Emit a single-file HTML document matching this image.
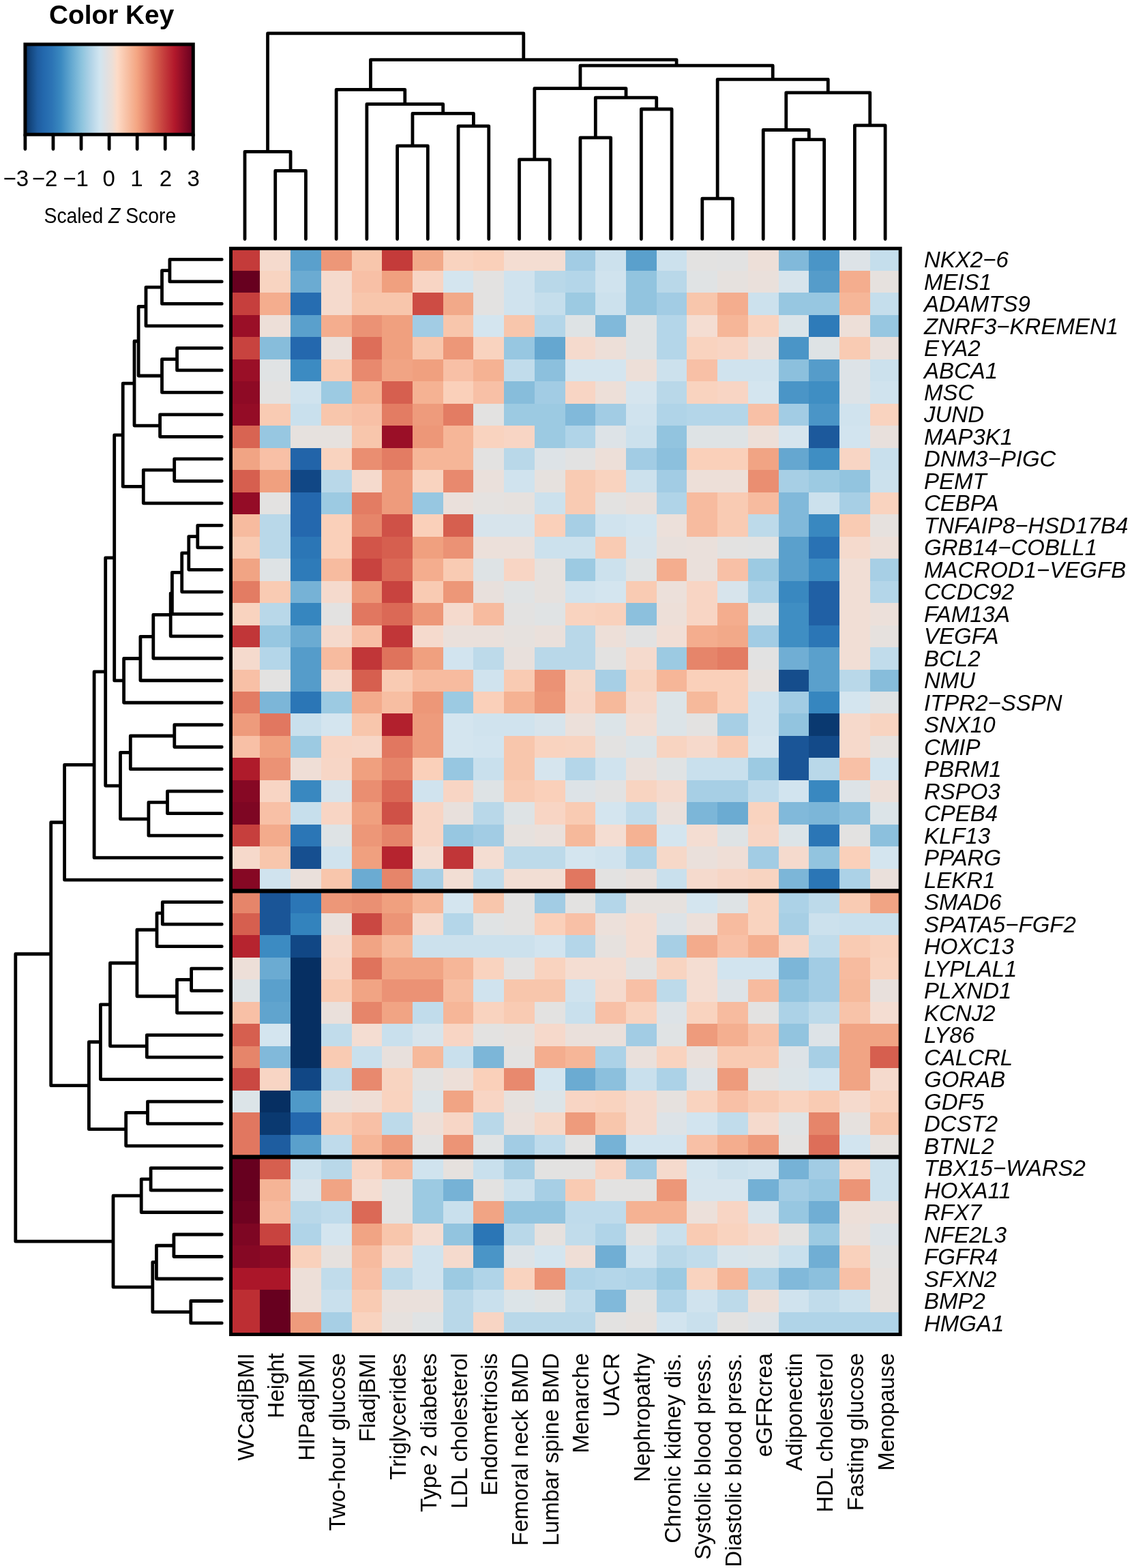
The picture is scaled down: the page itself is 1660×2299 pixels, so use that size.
<!DOCTYPE html>
<html><head><meta charset="utf-8"><title>Heatmap</title>
<style>html,body{margin:0;padding:0;background:#fff;}svg{display:block;}</style>
</head><body>
<svg width="1660" height="2299" viewBox="0 0 1660 2299">
<rect x="0" y="0" width="1660" height="2299" fill="#fff"/>
<g shape-rendering="crispEdges"><rect x="336.64" y="364.20" width="45.32" height="33.09" fill="#c43b3a"/><rect x="381.36" y="364.20" width="45.32" height="33.09" fill="#f5dacd"/><rect x="426.08" y="364.20" width="45.32" height="33.09" fill="#5aa0cc"/><rect x="470.80" y="364.20" width="45.32" height="33.09" fill="#ed9778"/><rect x="515.52" y="364.20" width="45.32" height="33.09" fill="#f8c6ac"/><rect x="560.24" y="364.20" width="45.32" height="33.09" fill="#c43b3a"/><rect x="604.96" y="364.20" width="45.32" height="33.09" fill="#f2a989"/><rect x="649.68" y="364.20" width="45.32" height="33.09" fill="#f9d3bf"/><rect x="694.40" y="364.20" width="45.32" height="33.09" fill="#fad0ba"/><rect x="739.12" y="364.20" width="45.32" height="33.09" fill="#f4ddd2"/><rect x="783.84" y="364.20" width="45.32" height="33.09" fill="#f4ddd2"/><rect x="828.56" y="364.20" width="45.32" height="33.09" fill="#a2cce4"/><rect x="873.28" y="364.20" width="45.32" height="33.09" fill="#cce1ed"/><rect x="918.00" y="364.20" width="45.32" height="33.09" fill="#5aa0cc"/><rect x="962.72" y="364.20" width="45.32" height="33.09" fill="#cce1ed"/><rect x="1007.44" y="364.20" width="45.32" height="33.09" fill="#e3e2e1"/><rect x="1052.16" y="364.20" width="45.32" height="33.09" fill="#e2e2e2"/><rect x="1096.88" y="364.20" width="45.32" height="33.09" fill="#eddfd8"/><rect x="1141.60" y="364.20" width="45.32" height="33.09" fill="#81b9da"/><rect x="1186.32" y="364.20" width="45.32" height="33.09" fill="#4a95c7"/><rect x="1231.04" y="364.20" width="45.32" height="33.09" fill="#dde3e7"/><rect x="1275.76" y="364.20" width="45.32" height="33.09" fill="#c5deec"/><rect x="336.64" y="396.69" width="45.32" height="33.09" fill="#67001f"/><rect x="381.36" y="396.69" width="45.32" height="33.09" fill="#f8d4c1"/><rect x="426.08" y="396.69" width="45.32" height="33.09" fill="#6babd2"/><rect x="470.80" y="396.69" width="45.32" height="33.09" fill="#f5dacd"/><rect x="515.52" y="396.69" width="45.32" height="33.09" fill="#f8c0a6"/><rect x="560.24" y="396.69" width="45.32" height="33.09" fill="#f0a07f"/><rect x="604.96" y="396.69" width="45.32" height="33.09" fill="#f8d5c4"/><rect x="649.68" y="396.69" width="45.32" height="33.09" fill="#d4e5ef"/><rect x="694.40" y="396.69" width="45.32" height="33.09" fill="#e3e2e1"/><rect x="739.12" y="396.69" width="45.32" height="33.09" fill="#d0e3ee"/><rect x="783.84" y="396.69" width="45.32" height="33.09" fill="#b9d8e9"/><rect x="828.56" y="396.69" width="45.32" height="33.09" fill="#b4d6e9"/><rect x="873.28" y="396.69" width="45.32" height="33.09" fill="#d0e3ee"/><rect x="918.00" y="396.69" width="45.32" height="33.09" fill="#92c4df"/><rect x="962.72" y="396.69" width="45.32" height="33.09" fill="#b9d8e9"/><rect x="1007.44" y="396.69" width="45.32" height="33.09" fill="#e0e3e4"/><rect x="1052.16" y="396.69" width="45.32" height="33.09" fill="#e6e1de"/><rect x="1096.88" y="396.69" width="45.32" height="33.09" fill="#eae0db"/><rect x="1141.60" y="396.69" width="45.32" height="33.09" fill="#d7e4ec"/><rect x="1186.32" y="396.69" width="45.32" height="33.09" fill="#559cca"/><rect x="1231.04" y="396.69" width="45.32" height="33.09" fill="#f4ad8e"/><rect x="1275.76" y="396.69" width="45.32" height="33.09" fill="#e6e1de"/><rect x="336.64" y="429.18" width="45.32" height="33.09" fill="#c63f3d"/><rect x="381.36" y="429.18" width="45.32" height="33.09" fill="#f4ad8e"/><rect x="426.08" y="429.18" width="45.32" height="33.09" fill="#266db1"/><rect x="470.80" y="429.18" width="45.32" height="33.09" fill="#f5dacd"/><rect x="515.52" y="429.18" width="45.32" height="33.09" fill="#f8c6ac"/><rect x="560.24" y="429.18" width="45.32" height="33.09" fill="#f8c6ac"/><rect x="604.96" y="429.18" width="45.32" height="33.09" fill="#cd4c44"/><rect x="649.68" y="429.18" width="45.32" height="33.09" fill="#f2a989"/><rect x="694.40" y="429.18" width="45.32" height="33.09" fill="#e3e2e1"/><rect x="739.12" y="429.18" width="45.32" height="33.09" fill="#d0e3ee"/><rect x="783.84" y="429.18" width="45.32" height="33.09" fill="#c5deec"/><rect x="828.56" y="429.18" width="45.32" height="33.09" fill="#9ccae2"/><rect x="873.28" y="429.18" width="45.32" height="33.09" fill="#cce1ed"/><rect x="918.00" y="429.18" width="45.32" height="33.09" fill="#92c4df"/><rect x="962.72" y="429.18" width="45.32" height="33.09" fill="#a2cce4"/><rect x="1007.44" y="429.18" width="45.32" height="33.09" fill="#f8c6ac"/><rect x="1052.16" y="429.18" width="45.32" height="33.09" fill="#f4ad8e"/><rect x="1096.88" y="429.18" width="45.32" height="33.09" fill="#cce1ed"/><rect x="1141.60" y="429.18" width="45.32" height="33.09" fill="#97c7e1"/><rect x="1186.32" y="429.18" width="45.32" height="33.09" fill="#97c7e1"/><rect x="1231.04" y="429.18" width="45.32" height="33.09" fill="#f6b698"/><rect x="1275.76" y="429.18" width="45.32" height="33.09" fill="#c5deec"/><rect x="336.64" y="461.67" width="45.32" height="33.09" fill="#9a0f27"/><rect x="381.36" y="461.67" width="45.32" height="33.09" fill="#eddfd8"/><rect x="426.08" y="461.67" width="45.32" height="33.09" fill="#5aa0cc"/><rect x="470.80" y="461.67" width="45.32" height="33.09" fill="#f4ad8e"/><rect x="515.52" y="461.67" width="45.32" height="33.09" fill="#eb9275"/><rect x="560.24" y="461.67" width="45.32" height="33.09" fill="#f0a07f"/><rect x="604.96" y="461.67" width="45.32" height="33.09" fill="#a2cce4"/><rect x="649.68" y="461.67" width="45.32" height="33.09" fill="#f8c6ac"/><rect x="694.40" y="461.67" width="45.32" height="33.09" fill="#d4e5ef"/><rect x="739.12" y="461.67" width="45.32" height="33.09" fill="#f8c6ac"/><rect x="783.84" y="461.67" width="45.32" height="33.09" fill="#b4d6e9"/><rect x="828.56" y="461.67" width="45.32" height="33.09" fill="#dee3e5"/><rect x="873.28" y="461.67" width="45.32" height="33.09" fill="#81b9da"/><rect x="918.00" y="461.67" width="45.32" height="33.09" fill="#e0e3e4"/><rect x="962.72" y="461.67" width="45.32" height="33.09" fill="#b4d6e9"/><rect x="1007.44" y="461.67" width="45.32" height="33.09" fill="#f4ddd2"/><rect x="1052.16" y="461.67" width="45.32" height="33.09" fill="#f6b698"/><rect x="1096.88" y="461.67" width="45.32" height="33.09" fill="#f9d3bf"/><rect x="1141.60" y="461.67" width="45.32" height="33.09" fill="#dae4e9"/><rect x="1186.32" y="461.67" width="45.32" height="33.09" fill="#2e7bb9"/><rect x="1231.04" y="461.67" width="45.32" height="33.09" fill="#eddfd8"/><rect x="1275.76" y="461.67" width="45.32" height="33.09" fill="#97c7e1"/><rect x="336.64" y="494.16" width="45.32" height="33.09" fill="#c8433f"/><rect x="381.36" y="494.16" width="45.32" height="33.09" fill="#87bddb"/><rect x="426.08" y="494.16" width="45.32" height="33.09" fill="#2468ae"/><rect x="470.80" y="494.16" width="45.32" height="33.09" fill="#eae0db"/><rect x="515.52" y="494.16" width="45.32" height="33.09" fill="#dd6e59"/><rect x="560.24" y="494.16" width="45.32" height="33.09" fill="#f0a07f"/><rect x="604.96" y="494.16" width="45.32" height="33.09" fill="#f8c6ac"/><rect x="649.68" y="494.16" width="45.32" height="33.09" fill="#ed9778"/><rect x="694.40" y="494.16" width="45.32" height="33.09" fill="#f9d3bf"/><rect x="739.12" y="494.16" width="45.32" height="33.09" fill="#97c7e1"/><rect x="783.84" y="494.16" width="45.32" height="33.09" fill="#65a7d0"/><rect x="828.56" y="494.16" width="45.32" height="33.09" fill="#f5dacd"/><rect x="873.28" y="494.16" width="45.32" height="33.09" fill="#eddfd8"/><rect x="918.00" y="494.16" width="45.32" height="33.09" fill="#e0e3e4"/><rect x="962.72" y="494.16" width="45.32" height="33.09" fill="#b4d6e9"/><rect x="1007.44" y="494.16" width="45.32" height="33.09" fill="#f9d3bf"/><rect x="1052.16" y="494.16" width="45.32" height="33.09" fill="#f8d5c4"/><rect x="1096.88" y="494.16" width="45.32" height="33.09" fill="#eae0db"/><rect x="1141.60" y="494.16" width="45.32" height="33.09" fill="#4a95c7"/><rect x="1186.32" y="494.16" width="45.32" height="33.09" fill="#dee3e5"/><rect x="1231.04" y="494.16" width="45.32" height="33.09" fill="#f9cbb3"/><rect x="1275.76" y="494.16" width="45.32" height="33.09" fill="#eae0db"/><rect x="336.64" y="526.65" width="45.32" height="33.09" fill="#9a0f27"/><rect x="381.36" y="526.65" width="45.32" height="33.09" fill="#e0e3e4"/><rect x="426.08" y="526.65" width="45.32" height="33.09" fill="#3c8bc2"/><rect x="470.80" y="526.65" width="45.32" height="33.09" fill="#f9cbb3"/><rect x="515.52" y="526.65" width="45.32" height="33.09" fill="#e8896e"/><rect x="560.24" y="526.65" width="45.32" height="33.09" fill="#f1a484"/><rect x="604.96" y="526.65" width="45.32" height="33.09" fill="#f0a07f"/><rect x="649.68" y="526.65" width="45.32" height="33.09" fill="#f8c0a6"/><rect x="694.40" y="526.65" width="45.32" height="33.09" fill="#f5b293"/><rect x="739.12" y="526.65" width="45.32" height="33.09" fill="#c1dceb"/><rect x="783.84" y="526.65" width="45.32" height="33.09" fill="#8cc0dd"/><rect x="828.56" y="526.65" width="45.32" height="33.09" fill="#d4e5ef"/><rect x="873.28" y="526.65" width="45.32" height="33.09" fill="#d4e5ef"/><rect x="918.00" y="526.65" width="45.32" height="33.09" fill="#eddfd8"/><rect x="962.72" y="526.65" width="45.32" height="33.09" fill="#cce1ed"/><rect x="1007.44" y="526.65" width="45.32" height="33.09" fill="#f8c0a6"/><rect x="1052.16" y="526.65" width="45.32" height="33.09" fill="#d0e3ee"/><rect x="1096.88" y="526.65" width="45.32" height="33.09" fill="#d0e3ee"/><rect x="1141.60" y="526.65" width="45.32" height="33.09" fill="#8cc0dd"/><rect x="1186.32" y="526.65" width="45.32" height="33.09" fill="#559cca"/><rect x="1231.04" y="526.65" width="45.32" height="33.09" fill="#dde3e7"/><rect x="1275.76" y="526.65" width="45.32" height="33.09" fill="#cce1ed"/><rect x="336.64" y="559.14" width="45.32" height="33.09" fill="#8e0a25"/><rect x="381.36" y="559.14" width="45.32" height="33.09" fill="#e3e2e1"/><rect x="426.08" y="559.14" width="45.32" height="33.09" fill="#d0e3ee"/><rect x="470.80" y="559.14" width="45.32" height="33.09" fill="#9ccae2"/><rect x="515.52" y="559.14" width="45.32" height="33.09" fill="#f5b293"/><rect x="560.24" y="559.14" width="45.32" height="33.09" fill="#d65f4f"/><rect x="604.96" y="559.14" width="45.32" height="33.09" fill="#f5b293"/><rect x="649.68" y="559.14" width="45.32" height="33.09" fill="#fad0ba"/><rect x="694.40" y="559.14" width="45.32" height="33.09" fill="#f8c0a6"/><rect x="739.12" y="559.14" width="45.32" height="33.09" fill="#87bddb"/><rect x="783.84" y="559.14" width="45.32" height="33.09" fill="#a2cce4"/><rect x="828.56" y="559.14" width="45.32" height="33.09" fill="#f8d5c4"/><rect x="873.28" y="559.14" width="45.32" height="33.09" fill="#eddfd8"/><rect x="918.00" y="559.14" width="45.32" height="33.09" fill="#d6e5ee"/><rect x="962.72" y="559.14" width="45.32" height="33.09" fill="#b9d8e9"/><rect x="1007.44" y="559.14" width="45.32" height="33.09" fill="#f9d3bf"/><rect x="1052.16" y="559.14" width="45.32" height="33.09" fill="#f8d5c4"/><rect x="1096.88" y="559.14" width="45.32" height="33.09" fill="#d4e5ef"/><rect x="1141.60" y="559.14" width="45.32" height="33.09" fill="#4a95c7"/><rect x="1186.32" y="559.14" width="45.32" height="33.09" fill="#3f8ec3"/><rect x="1231.04" y="559.14" width="45.32" height="33.09" fill="#dde3e7"/><rect x="1275.76" y="559.14" width="45.32" height="33.09" fill="#d0e3ee"/><rect x="336.64" y="591.63" width="45.32" height="33.09" fill="#940c26"/><rect x="381.36" y="591.63" width="45.32" height="33.09" fill="#f9cbb3"/><rect x="426.08" y="591.63" width="45.32" height="33.09" fill="#c9e0ed"/><rect x="470.80" y="591.63" width="45.32" height="33.09" fill="#f8c6ac"/><rect x="515.52" y="591.63" width="45.32" height="33.09" fill="#f8c0a6"/><rect x="560.24" y="591.63" width="45.32" height="33.09" fill="#e37c63"/><rect x="604.96" y="591.63" width="45.32" height="33.09" fill="#ee9b7c"/><rect x="649.68" y="591.63" width="45.32" height="33.09" fill="#e37c63"/><rect x="694.40" y="591.63" width="45.32" height="33.09" fill="#e3e2e1"/><rect x="739.12" y="591.63" width="45.32" height="33.09" fill="#9ccae2"/><rect x="783.84" y="591.63" width="45.32" height="33.09" fill="#9ccae2"/><rect x="828.56" y="591.63" width="45.32" height="33.09" fill="#81b9da"/><rect x="873.28" y="591.63" width="45.32" height="33.09" fill="#a2cce4"/><rect x="918.00" y="591.63" width="45.32" height="33.09" fill="#d0e3ee"/><rect x="962.72" y="591.63" width="45.32" height="33.09" fill="#b0d4e8"/><rect x="1007.44" y="591.63" width="45.32" height="33.09" fill="#b4d6e9"/><rect x="1052.16" y="591.63" width="45.32" height="33.09" fill="#b4d6e9"/><rect x="1096.88" y="591.63" width="45.32" height="33.09" fill="#f8c0a6"/><rect x="1141.60" y="591.63" width="45.32" height="33.09" fill="#a2cce4"/><rect x="1186.32" y="591.63" width="45.32" height="33.09" fill="#4a95c7"/><rect x="1231.04" y="591.63" width="45.32" height="33.09" fill="#d0e3ee"/><rect x="1275.76" y="591.63" width="45.32" height="33.09" fill="#f9d3bf"/><rect x="336.64" y="624.12" width="45.32" height="33.09" fill="#d86452"/><rect x="381.36" y="624.12" width="45.32" height="33.09" fill="#97c7e1"/><rect x="426.08" y="624.12" width="45.32" height="33.09" fill="#e6e1de"/><rect x="470.80" y="624.12" width="45.32" height="33.09" fill="#e6e1de"/><rect x="515.52" y="624.12" width="45.32" height="33.09" fill="#f8c6ac"/><rect x="560.24" y="624.12" width="45.32" height="33.09" fill="#9a0f27"/><rect x="604.96" y="624.12" width="45.32" height="33.09" fill="#ed9778"/><rect x="649.68" y="624.12" width="45.32" height="33.09" fill="#f6b698"/><rect x="694.40" y="624.12" width="45.32" height="33.09" fill="#f9d3bf"/><rect x="739.12" y="624.12" width="45.32" height="33.09" fill="#f8d5c4"/><rect x="783.84" y="624.12" width="45.32" height="33.09" fill="#9ccae2"/><rect x="828.56" y="624.12" width="45.32" height="33.09" fill="#b0d4e8"/><rect x="873.28" y="624.12" width="45.32" height="33.09" fill="#dde3e7"/><rect x="918.00" y="624.12" width="45.32" height="33.09" fill="#cce1ed"/><rect x="962.72" y="624.12" width="45.32" height="33.09" fill="#92c4df"/><rect x="1007.44" y="624.12" width="45.32" height="33.09" fill="#dee3e5"/><rect x="1052.16" y="624.12" width="45.32" height="33.09" fill="#dee3e5"/><rect x="1096.88" y="624.12" width="45.32" height="33.09" fill="#eddfd8"/><rect x="1141.60" y="624.12" width="45.32" height="33.09" fill="#d6e5ee"/><rect x="1186.32" y="624.12" width="45.32" height="33.09" fill="#1c599c"/><rect x="1231.04" y="624.12" width="45.32" height="33.09" fill="#d2e4ef"/><rect x="1275.76" y="624.12" width="45.32" height="33.09" fill="#e8e0dc"/><rect x="336.64" y="656.61" width="45.32" height="33.09" fill="#f1a484"/><rect x="381.36" y="656.61" width="45.32" height="33.09" fill="#f8c0a6"/><rect x="426.08" y="656.61" width="45.32" height="33.09" fill="#2264a9"/><rect x="470.80" y="656.61" width="45.32" height="33.09" fill="#f9d3bf"/><rect x="515.52" y="656.61" width="45.32" height="33.09" fill="#ea8e71"/><rect x="560.24" y="656.61" width="45.32" height="33.09" fill="#e37c63"/><rect x="604.96" y="656.61" width="45.32" height="33.09" fill="#f6b698"/><rect x="649.68" y="656.61" width="45.32" height="33.09" fill="#f6b698"/><rect x="694.40" y="656.61" width="45.32" height="33.09" fill="#e3e2e1"/><rect x="739.12" y="656.61" width="45.32" height="33.09" fill="#b9d8e9"/><rect x="783.84" y="656.61" width="45.32" height="33.09" fill="#dde3e7"/><rect x="828.56" y="656.61" width="45.32" height="33.09" fill="#e2e2e2"/><rect x="873.28" y="656.61" width="45.32" height="33.09" fill="#eddfd8"/><rect x="918.00" y="656.61" width="45.32" height="33.09" fill="#a2cce4"/><rect x="962.72" y="656.61" width="45.32" height="33.09" fill="#8cc0dd"/><rect x="1007.44" y="656.61" width="45.32" height="33.09" fill="#fad0ba"/><rect x="1052.16" y="656.61" width="45.32" height="33.09" fill="#fad0ba"/><rect x="1096.88" y="656.61" width="45.32" height="33.09" fill="#f1a484"/><rect x="1141.60" y="656.61" width="45.32" height="33.09" fill="#65a7d0"/><rect x="1186.32" y="656.61" width="45.32" height="33.09" fill="#3f8ec3"/><rect x="1231.04" y="656.61" width="45.32" height="33.09" fill="#f8d5c4"/><rect x="1275.76" y="656.61" width="45.32" height="33.09" fill="#c9e0ed"/><rect x="336.64" y="689.10" width="45.32" height="33.09" fill="#d65f4f"/><rect x="381.36" y="689.10" width="45.32" height="33.09" fill="#f0a07f"/><rect x="426.08" y="689.10" width="45.32" height="33.09" fill="#114785"/><rect x="470.80" y="689.10" width="45.32" height="33.09" fill="#b9d8e9"/><rect x="515.52" y="689.10" width="45.32" height="33.09" fill="#f5dacd"/><rect x="560.24" y="689.10" width="45.32" height="33.09" fill="#ee9b7c"/><rect x="604.96" y="689.10" width="45.32" height="33.09" fill="#f9d3bf"/><rect x="649.68" y="689.10" width="45.32" height="33.09" fill="#e8896e"/><rect x="694.40" y="689.10" width="45.32" height="33.09" fill="#eae0db"/><rect x="739.12" y="689.10" width="45.32" height="33.09" fill="#d0e3ee"/><rect x="783.84" y="689.10" width="45.32" height="33.09" fill="#e6e1de"/><rect x="828.56" y="689.10" width="45.32" height="33.09" fill="#f9cbb3"/><rect x="873.28" y="689.10" width="45.32" height="33.09" fill="#f9d3bf"/><rect x="918.00" y="689.10" width="45.32" height="33.09" fill="#cce1ed"/><rect x="962.72" y="689.10" width="45.32" height="33.09" fill="#a2cce4"/><rect x="1007.44" y="689.10" width="45.32" height="33.09" fill="#eddfd8"/><rect x="1052.16" y="689.10" width="45.32" height="33.09" fill="#eddfd8"/><rect x="1096.88" y="689.10" width="45.32" height="33.09" fill="#ea8e71"/><rect x="1141.60" y="689.10" width="45.32" height="33.09" fill="#a7cfe5"/><rect x="1186.32" y="689.10" width="45.32" height="33.09" fill="#9ccae2"/><rect x="1231.04" y="689.10" width="45.32" height="33.09" fill="#92c4df"/><rect x="1275.76" y="689.10" width="45.32" height="33.09" fill="#cce1ed"/><rect x="336.64" y="721.59" width="45.32" height="33.09" fill="#940c26"/><rect x="381.36" y="721.59" width="45.32" height="33.09" fill="#e3e2e1"/><rect x="426.08" y="721.59" width="45.32" height="33.09" fill="#2468ae"/><rect x="470.80" y="721.59" width="45.32" height="33.09" fill="#9ccae2"/><rect x="515.52" y="721.59" width="45.32" height="33.09" fill="#e37c63"/><rect x="560.24" y="721.59" width="45.32" height="33.09" fill="#ee9b7c"/><rect x="604.96" y="721.59" width="45.32" height="33.09" fill="#97c7e1"/><rect x="649.68" y="721.59" width="45.32" height="33.09" fill="#eae0db"/><rect x="694.40" y="721.59" width="45.32" height="33.09" fill="#e5e2e0"/><rect x="739.12" y="721.59" width="45.32" height="33.09" fill="#e6e1de"/><rect x="783.84" y="721.59" width="45.32" height="33.09" fill="#cce1ed"/><rect x="828.56" y="721.59" width="45.32" height="33.09" fill="#f9cbb3"/><rect x="873.28" y="721.59" width="45.32" height="33.09" fill="#e3e2e1"/><rect x="918.00" y="721.59" width="45.32" height="33.09" fill="#e8e0dc"/><rect x="962.72" y="721.59" width="45.32" height="33.09" fill="#b0d4e8"/><rect x="1007.44" y="721.59" width="45.32" height="33.09" fill="#f7bb9f"/><rect x="1052.16" y="721.59" width="45.32" height="33.09" fill="#f9cbb3"/><rect x="1096.88" y="721.59" width="45.32" height="33.09" fill="#f7bb9f"/><rect x="1141.60" y="721.59" width="45.32" height="33.09" fill="#81b9da"/><rect x="1186.32" y="721.59" width="45.32" height="33.09" fill="#cce1ed"/><rect x="1231.04" y="721.59" width="45.32" height="33.09" fill="#a7cfe5"/><rect x="1275.76" y="721.59" width="45.32" height="33.09" fill="#f9d3bf"/><rect x="336.64" y="754.08" width="45.32" height="33.09" fill="#f7bb9f"/><rect x="381.36" y="754.08" width="45.32" height="33.09" fill="#b9d8e9"/><rect x="426.08" y="754.08" width="45.32" height="33.09" fill="#2468ae"/><rect x="470.80" y="754.08" width="45.32" height="33.09" fill="#fad0ba"/><rect x="515.52" y="754.08" width="45.32" height="33.09" fill="#e6856a"/><rect x="560.24" y="754.08" width="45.32" height="33.09" fill="#cf5147"/><rect x="604.96" y="754.08" width="45.32" height="33.09" fill="#fad0ba"/><rect x="649.68" y="754.08" width="45.32" height="33.09" fill="#d65f4f"/><rect x="694.40" y="754.08" width="45.32" height="33.09" fill="#d7e4ec"/><rect x="739.12" y="754.08" width="45.32" height="33.09" fill="#d7e4ec"/><rect x="783.84" y="754.08" width="45.32" height="33.09" fill="#fad0ba"/><rect x="828.56" y="754.08" width="45.32" height="33.09" fill="#a7cfe5"/><rect x="873.28" y="754.08" width="45.32" height="33.09" fill="#d0e3ee"/><rect x="918.00" y="754.08" width="45.32" height="33.09" fill="#d4e5ef"/><rect x="962.72" y="754.08" width="45.32" height="33.09" fill="#ece0da"/><rect x="1007.44" y="754.08" width="45.32" height="33.09" fill="#f7bb9f"/><rect x="1052.16" y="754.08" width="45.32" height="33.09" fill="#f9cbb3"/><rect x="1096.88" y="754.08" width="45.32" height="33.09" fill="#bddaea"/><rect x="1141.60" y="754.08" width="45.32" height="33.09" fill="#81b9da"/><rect x="1186.32" y="754.08" width="45.32" height="33.09" fill="#3988c0"/><rect x="1231.04" y="754.08" width="45.32" height="33.09" fill="#f9cbb3"/><rect x="1275.76" y="754.08" width="45.32" height="33.09" fill="#e6e1de"/><rect x="336.64" y="786.57" width="45.32" height="33.09" fill="#f9cbb3"/><rect x="381.36" y="786.57" width="45.32" height="33.09" fill="#b9d8e9"/><rect x="426.08" y="786.57" width="45.32" height="33.09" fill="#2b76b6"/><rect x="470.80" y="786.57" width="45.32" height="33.09" fill="#fad0ba"/><rect x="515.52" y="786.57" width="45.32" height="33.09" fill="#d25549"/><rect x="560.24" y="786.57" width="45.32" height="33.09" fill="#d65f4f"/><rect x="604.96" y="786.57" width="45.32" height="33.09" fill="#f0a07f"/><rect x="649.68" y="786.57" width="45.32" height="33.09" fill="#eb9275"/><rect x="694.40" y="786.57" width="45.32" height="33.09" fill="#ece0da"/><rect x="739.12" y="786.57" width="45.32" height="33.09" fill="#ece0da"/><rect x="783.84" y="786.57" width="45.32" height="33.09" fill="#cce1ed"/><rect x="828.56" y="786.57" width="45.32" height="33.09" fill="#cce1ed"/><rect x="873.28" y="786.57" width="45.32" height="33.09" fill="#f9cbb3"/><rect x="918.00" y="786.57" width="45.32" height="33.09" fill="#d7e4ec"/><rect x="962.72" y="786.57" width="45.32" height="33.09" fill="#e8e0dc"/><rect x="1007.44" y="786.57" width="45.32" height="33.09" fill="#eae0db"/><rect x="1052.16" y="786.57" width="45.32" height="33.09" fill="#e3e2e1"/><rect x="1096.88" y="786.57" width="45.32" height="33.09" fill="#e2e2e2"/><rect x="1141.60" y="786.57" width="45.32" height="33.09" fill="#5aa0cc"/><rect x="1186.32" y="786.57" width="45.32" height="33.09" fill="#2972b4"/><rect x="1231.04" y="786.57" width="45.32" height="33.09" fill="#f5dacd"/><rect x="1275.76" y="786.57" width="45.32" height="33.09" fill="#eddfd8"/><rect x="336.64" y="819.06" width="45.32" height="33.09" fill="#f1a484"/><rect x="381.36" y="819.06" width="45.32" height="33.09" fill="#dee3e5"/><rect x="426.08" y="819.06" width="45.32" height="33.09" fill="#2e7bb9"/><rect x="470.80" y="819.06" width="45.32" height="33.09" fill="#f7bb9f"/><rect x="515.52" y="819.06" width="45.32" height="33.09" fill="#c8433f"/><rect x="560.24" y="819.06" width="45.32" height="33.09" fill="#db6956"/><rect x="604.96" y="819.06" width="45.32" height="33.09" fill="#f4ad8e"/><rect x="649.68" y="819.06" width="45.32" height="33.09" fill="#f9cbb3"/><rect x="694.40" y="819.06" width="45.32" height="33.09" fill="#dee3e5"/><rect x="739.12" y="819.06" width="45.32" height="33.09" fill="#f8d5c4"/><rect x="783.84" y="819.06" width="45.32" height="33.09" fill="#e6e1de"/><rect x="828.56" y="819.06" width="45.32" height="33.09" fill="#9ccae2"/><rect x="873.28" y="819.06" width="45.32" height="33.09" fill="#cce1ed"/><rect x="918.00" y="819.06" width="45.32" height="33.09" fill="#e0e3e4"/><rect x="962.72" y="819.06" width="45.32" height="33.09" fill="#f4ad8e"/><rect x="1007.44" y="819.06" width="45.32" height="33.09" fill="#eae0db"/><rect x="1052.16" y="819.06" width="45.32" height="33.09" fill="#f8c0a6"/><rect x="1096.88" y="819.06" width="45.32" height="33.09" fill="#9ccae2"/><rect x="1141.60" y="819.06" width="45.32" height="33.09" fill="#5aa0cc"/><rect x="1186.32" y="819.06" width="45.32" height="33.09" fill="#3c8bc2"/><rect x="1231.04" y="819.06" width="45.32" height="33.09" fill="#f1ded5"/><rect x="1275.76" y="819.06" width="45.32" height="33.09" fill="#a7cfe5"/><rect x="336.64" y="851.55" width="45.32" height="33.09" fill="#e37c63"/><rect x="381.36" y="851.55" width="45.32" height="33.09" fill="#f9cbb3"/><rect x="426.08" y="851.55" width="45.32" height="33.09" fill="#76b2d6"/><rect x="470.80" y="851.55" width="45.32" height="33.09" fill="#f5dacd"/><rect x="515.52" y="851.55" width="45.32" height="33.09" fill="#ed9778"/><rect x="560.24" y="851.55" width="45.32" height="33.09" fill="#c8433f"/><rect x="604.96" y="851.55" width="45.32" height="33.09" fill="#f9cbb3"/><rect x="649.68" y="851.55" width="45.32" height="33.09" fill="#ed9778"/><rect x="694.40" y="851.55" width="45.32" height="33.09" fill="#e8e0dc"/><rect x="739.12" y="851.55" width="45.32" height="33.09" fill="#e0e3e4"/><rect x="783.84" y="851.55" width="45.32" height="33.09" fill="#e6e1de"/><rect x="828.56" y="851.55" width="45.32" height="33.09" fill="#d0e3ee"/><rect x="873.28" y="851.55" width="45.32" height="33.09" fill="#d4e5ef"/><rect x="918.00" y="851.55" width="45.32" height="33.09" fill="#f9cbb3"/><rect x="962.72" y="851.55" width="45.32" height="33.09" fill="#ece0da"/><rect x="1007.44" y="851.55" width="45.32" height="33.09" fill="#f8d5c4"/><rect x="1052.16" y="851.55" width="45.32" height="33.09" fill="#d7e4ec"/><rect x="1096.88" y="851.55" width="45.32" height="33.09" fill="#acd2e7"/><rect x="1141.60" y="851.55" width="45.32" height="33.09" fill="#3988c0"/><rect x="1186.32" y="851.55" width="45.32" height="33.09" fill="#2060a5"/><rect x="1231.04" y="851.55" width="45.32" height="33.09" fill="#f1ded5"/><rect x="1275.76" y="851.55" width="45.32" height="33.09" fill="#b4d6e9"/><rect x="336.64" y="884.04" width="45.32" height="33.09" fill="#f9d3bf"/><rect x="381.36" y="884.04" width="45.32" height="33.09" fill="#b9d8e9"/><rect x="426.08" y="884.04" width="45.32" height="33.09" fill="#3686bf"/><rect x="470.80" y="884.04" width="45.32" height="33.09" fill="#e3e2e1"/><rect x="515.52" y="884.04" width="45.32" height="33.09" fill="#e17760"/><rect x="560.24" y="884.04" width="45.32" height="33.09" fill="#db6956"/><rect x="604.96" y="884.04" width="45.32" height="33.09" fill="#ed9778"/><rect x="649.68" y="884.04" width="45.32" height="33.09" fill="#f5dacd"/><rect x="694.40" y="884.04" width="45.32" height="33.09" fill="#f7bb9f"/><rect x="739.12" y="884.04" width="45.32" height="33.09" fill="#e3e2e1"/><rect x="783.84" y="884.04" width="45.32" height="33.09" fill="#e0e3e4"/><rect x="828.56" y="884.04" width="45.32" height="33.09" fill="#f9d3bf"/><rect x="873.28" y="884.04" width="45.32" height="33.09" fill="#f9d1bc"/><rect x="918.00" y="884.04" width="45.32" height="33.09" fill="#8cc0dd"/><rect x="962.72" y="884.04" width="45.32" height="33.09" fill="#eddfd8"/><rect x="1007.44" y="884.04" width="45.32" height="33.09" fill="#f8d5c4"/><rect x="1052.16" y="884.04" width="45.32" height="33.09" fill="#f4ad8e"/><rect x="1096.88" y="884.04" width="45.32" height="33.09" fill="#dee3e5"/><rect x="1141.60" y="884.04" width="45.32" height="33.09" fill="#3f8ec3"/><rect x="1186.32" y="884.04" width="45.32" height="33.09" fill="#2060a5"/><rect x="1231.04" y="884.04" width="45.32" height="33.09" fill="#f1ded5"/><rect x="1275.76" y="884.04" width="45.32" height="33.09" fill="#ece0da"/><rect x="336.64" y="916.53" width="45.32" height="33.09" fill="#c13638"/><rect x="381.36" y="916.53" width="45.32" height="33.09" fill="#97c7e1"/><rect x="426.08" y="916.53" width="45.32" height="33.09" fill="#6babd2"/><rect x="470.80" y="916.53" width="45.32" height="33.09" fill="#f5dacd"/><rect x="515.52" y="916.53" width="45.32" height="33.09" fill="#f8c0a6"/><rect x="560.24" y="916.53" width="45.32" height="33.09" fill="#c13638"/><rect x="604.96" y="916.53" width="45.32" height="33.09" fill="#f5dacd"/><rect x="649.68" y="916.53" width="45.32" height="33.09" fill="#eae0db"/><rect x="694.40" y="916.53" width="45.32" height="33.09" fill="#eae0db"/><rect x="739.12" y="916.53" width="45.32" height="33.09" fill="#e6e1de"/><rect x="783.84" y="916.53" width="45.32" height="33.09" fill="#eae0db"/><rect x="828.56" y="916.53" width="45.32" height="33.09" fill="#b9d8e9"/><rect x="873.28" y="916.53" width="45.32" height="33.09" fill="#eddfd8"/><rect x="918.00" y="916.53" width="45.32" height="33.09" fill="#e2e2e2"/><rect x="962.72" y="916.53" width="45.32" height="33.09" fill="#f1ded5"/><rect x="1007.44" y="916.53" width="45.32" height="33.09" fill="#f4ad8e"/><rect x="1052.16" y="916.53" width="45.32" height="33.09" fill="#f2a989"/><rect x="1096.88" y="916.53" width="45.32" height="33.09" fill="#a2cce4"/><rect x="1141.60" y="916.53" width="45.32" height="33.09" fill="#3f8ec3"/><rect x="1186.32" y="916.53" width="45.32" height="33.09" fill="#2b76b6"/><rect x="1231.04" y="916.53" width="45.32" height="33.09" fill="#f1ded5"/><rect x="1275.76" y="916.53" width="45.32" height="33.09" fill="#e6e1de"/><rect x="336.64" y="949.02" width="45.32" height="33.09" fill="#f5dacd"/><rect x="381.36" y="949.02" width="45.32" height="33.09" fill="#b4d6e9"/><rect x="426.08" y="949.02" width="45.32" height="33.09" fill="#559cca"/><rect x="470.80" y="949.02" width="45.32" height="33.09" fill="#f7bb9f"/><rect x="515.52" y="949.02" width="45.32" height="33.09" fill="#c13638"/><rect x="560.24" y="949.02" width="45.32" height="33.09" fill="#df735c"/><rect x="604.96" y="949.02" width="45.32" height="33.09" fill="#f0a07f"/><rect x="649.68" y="949.02" width="45.32" height="33.09" fill="#d2e4ef"/><rect x="694.40" y="949.02" width="45.32" height="33.09" fill="#bddaea"/><rect x="739.12" y="949.02" width="45.32" height="33.09" fill="#e8e0dc"/><rect x="783.84" y="949.02" width="45.32" height="33.09" fill="#b9d8e9"/><rect x="828.56" y="949.02" width="45.32" height="33.09" fill="#b9d8e9"/><rect x="873.28" y="949.02" width="45.32" height="33.09" fill="#e3e2e1"/><rect x="918.00" y="949.02" width="45.32" height="33.09" fill="#f5dacd"/><rect x="962.72" y="949.02" width="45.32" height="33.09" fill="#9ccae2"/><rect x="1007.44" y="949.02" width="45.32" height="33.09" fill="#e6856a"/><rect x="1052.16" y="949.02" width="45.32" height="33.09" fill="#e37c63"/><rect x="1096.88" y="949.02" width="45.32" height="33.09" fill="#e2e2e2"/><rect x="1141.60" y="949.02" width="45.32" height="33.09" fill="#70aed4"/><rect x="1186.32" y="949.02" width="45.32" height="33.09" fill="#5aa0cc"/><rect x="1231.04" y="949.02" width="45.32" height="33.09" fill="#f1ded5"/><rect x="1275.76" y="949.02" width="45.32" height="33.09" fill="#c1dceb"/><rect x="336.64" y="981.51" width="45.32" height="33.09" fill="#f8c0a6"/><rect x="381.36" y="981.51" width="45.32" height="33.09" fill="#e3e2e1"/><rect x="426.08" y="981.51" width="45.32" height="33.09" fill="#559cca"/><rect x="470.80" y="981.51" width="45.32" height="33.09" fill="#f5dacd"/><rect x="515.52" y="981.51" width="45.32" height="33.09" fill="#d65f4f"/><rect x="560.24" y="981.51" width="45.32" height="33.09" fill="#f9cbb3"/><rect x="604.96" y="981.51" width="45.32" height="33.09" fill="#f7bb9f"/><rect x="649.68" y="981.51" width="45.32" height="33.09" fill="#f7bb9f"/><rect x="694.40" y="981.51" width="45.32" height="33.09" fill="#d0e3ee"/><rect x="739.12" y="981.51" width="45.32" height="33.09" fill="#f9cbb3"/><rect x="783.84" y="981.51" width="45.32" height="33.09" fill="#eb9275"/><rect x="828.56" y="981.51" width="45.32" height="33.09" fill="#f6d8c8"/><rect x="873.28" y="981.51" width="45.32" height="33.09" fill="#a7cfe5"/><rect x="918.00" y="981.51" width="45.32" height="33.09" fill="#f8d4c1"/><rect x="962.72" y="981.51" width="45.32" height="33.09" fill="#f6b698"/><rect x="1007.44" y="981.51" width="45.32" height="33.09" fill="#fad0ba"/><rect x="1052.16" y="981.51" width="45.32" height="33.09" fill="#fad0ba"/><rect x="1096.88" y="981.51" width="45.32" height="33.09" fill="#e6e1de"/><rect x="1141.60" y="981.51" width="45.32" height="33.09" fill="#154d8c"/><rect x="1186.32" y="981.51" width="45.32" height="33.09" fill="#5aa0cc"/><rect x="1231.04" y="981.51" width="45.32" height="33.09" fill="#b9d8e9"/><rect x="1275.76" y="981.51" width="45.32" height="33.09" fill="#87bddb"/><rect x="336.64" y="1014.00" width="45.32" height="33.09" fill="#e37c63"/><rect x="381.36" y="1014.00" width="45.32" height="33.09" fill="#7cb6d8"/><rect x="426.08" y="1014.00" width="45.32" height="33.09" fill="#2b76b6"/><rect x="470.80" y="1014.00" width="45.32" height="33.09" fill="#9ccae2"/><rect x="515.52" y="1014.00" width="45.32" height="33.09" fill="#f3ab8c"/><rect x="560.24" y="1014.00" width="45.32" height="33.09" fill="#f7bea2"/><rect x="604.96" y="1014.00" width="45.32" height="33.09" fill="#ed9778"/><rect x="649.68" y="1014.00" width="45.32" height="33.09" fill="#9ccae2"/><rect x="694.40" y="1014.00" width="45.32" height="33.09" fill="#fad0ba"/><rect x="739.12" y="1014.00" width="45.32" height="33.09" fill="#f5b293"/><rect x="783.84" y="1014.00" width="45.32" height="33.09" fill="#ed9778"/><rect x="828.56" y="1014.00" width="45.32" height="33.09" fill="#f7d6c6"/><rect x="873.28" y="1014.00" width="45.32" height="33.09" fill="#f6b99b"/><rect x="918.00" y="1014.00" width="45.32" height="33.09" fill="#f6d9cb"/><rect x="962.72" y="1014.00" width="45.32" height="33.09" fill="#dce4e8"/><rect x="1007.44" y="1014.00" width="45.32" height="33.09" fill="#f6b99b"/><rect x="1052.16" y="1014.00" width="45.32" height="33.09" fill="#fad0ba"/><rect x="1096.88" y="1014.00" width="45.32" height="33.09" fill="#d0e3ee"/><rect x="1141.60" y="1014.00" width="45.32" height="33.09" fill="#a2cce4"/><rect x="1186.32" y="1014.00" width="45.32" height="33.09" fill="#3686bf"/><rect x="1231.04" y="1014.00" width="45.32" height="33.09" fill="#d4e5ef"/><rect x="1275.76" y="1014.00" width="45.32" height="33.09" fill="#dee3e5"/><rect x="336.64" y="1046.49" width="45.32" height="33.09" fill="#ee9b7c"/><rect x="381.36" y="1046.49" width="45.32" height="33.09" fill="#e17760"/><rect x="426.08" y="1046.49" width="45.32" height="33.09" fill="#c9e0ed"/><rect x="470.80" y="1046.49" width="45.32" height="33.09" fill="#d4e5ef"/><rect x="515.52" y="1046.49" width="45.32" height="33.09" fill="#f8c6ac"/><rect x="560.24" y="1046.49" width="45.32" height="33.09" fill="#b2202d"/><rect x="604.96" y="1046.49" width="45.32" height="33.09" fill="#ee9b7c"/><rect x="649.68" y="1046.49" width="45.32" height="33.09" fill="#d4e5ef"/><rect x="694.40" y="1046.49" width="45.32" height="33.09" fill="#d0e3ee"/><rect x="739.12" y="1046.49" width="45.32" height="33.09" fill="#d0e3ee"/><rect x="783.84" y="1046.49" width="45.32" height="33.09" fill="#d7e4ec"/><rect x="828.56" y="1046.49" width="45.32" height="33.09" fill="#ece0da"/><rect x="873.28" y="1046.49" width="45.32" height="33.09" fill="#dce4e8"/><rect x="918.00" y="1046.49" width="45.32" height="33.09" fill="#f2ded4"/><rect x="962.72" y="1046.49" width="45.32" height="33.09" fill="#dce4e8"/><rect x="1007.44" y="1046.49" width="45.32" height="33.09" fill="#e3e2e1"/><rect x="1052.16" y="1046.49" width="45.32" height="33.09" fill="#a7cfe5"/><rect x="1096.88" y="1046.49" width="45.32" height="33.09" fill="#d0e3ee"/><rect x="1141.60" y="1046.49" width="45.32" height="33.09" fill="#92c4df"/><rect x="1186.32" y="1046.49" width="45.32" height="33.09" fill="#0a3970"/><rect x="1231.04" y="1046.49" width="45.32" height="33.09" fill="#f6d9cb"/><rect x="1275.76" y="1046.49" width="45.32" height="33.09" fill="#f8d4c1"/><rect x="336.64" y="1078.98" width="45.32" height="33.09" fill="#f8c0a6"/><rect x="381.36" y="1078.98" width="45.32" height="33.09" fill="#f0a07f"/><rect x="426.08" y="1078.98" width="45.32" height="33.09" fill="#9ccae2"/><rect x="470.80" y="1078.98" width="45.32" height="33.09" fill="#f8d5c4"/><rect x="515.52" y="1078.98" width="45.32" height="33.09" fill="#f7d6c6"/><rect x="560.24" y="1078.98" width="45.32" height="33.09" fill="#e17760"/><rect x="604.96" y="1078.98" width="45.32" height="33.09" fill="#ee9b7c"/><rect x="649.68" y="1078.98" width="45.32" height="33.09" fill="#d4e5ef"/><rect x="694.40" y="1078.98" width="45.32" height="33.09" fill="#d2e4ef"/><rect x="739.12" y="1078.98" width="45.32" height="33.09" fill="#f8c6ac"/><rect x="783.84" y="1078.98" width="45.32" height="33.09" fill="#f9d3bf"/><rect x="828.56" y="1078.98" width="45.32" height="33.09" fill="#f8d4c1"/><rect x="873.28" y="1078.98" width="45.32" height="33.09" fill="#e3e2e1"/><rect x="918.00" y="1078.98" width="45.32" height="33.09" fill="#dce4e8"/><rect x="962.72" y="1078.98" width="45.32" height="33.09" fill="#f8d4c1"/><rect x="1007.44" y="1078.98" width="45.32" height="33.09" fill="#f6d9cb"/><rect x="1052.16" y="1078.98" width="45.32" height="33.09" fill="#f9cbb3"/><rect x="1096.88" y="1078.98" width="45.32" height="33.09" fill="#d4e5ef"/><rect x="1141.60" y="1078.98" width="45.32" height="33.09" fill="#1a5597"/><rect x="1186.32" y="1078.98" width="45.32" height="33.09" fill="#134a89"/><rect x="1231.04" y="1078.98" width="45.32" height="33.09" fill="#f6d9cb"/><rect x="1275.76" y="1078.98" width="45.32" height="33.09" fill="#e6e1de"/><rect x="336.64" y="1111.47" width="45.32" height="33.09" fill="#af1b2b"/><rect x="381.36" y="1111.47" width="45.32" height="33.09" fill="#eb9275"/><rect x="426.08" y="1111.47" width="45.32" height="33.09" fill="#efded6"/><rect x="470.80" y="1111.47" width="45.32" height="33.09" fill="#f7d6c6"/><rect x="515.52" y="1111.47" width="45.32" height="33.09" fill="#f0a07f"/><rect x="560.24" y="1111.47" width="45.32" height="33.09" fill="#e6856a"/><rect x="604.96" y="1111.47" width="45.32" height="33.09" fill="#fad0ba"/><rect x="649.68" y="1111.47" width="45.32" height="33.09" fill="#97c7e1"/><rect x="694.40" y="1111.47" width="45.32" height="33.09" fill="#c9e0ed"/><rect x="739.12" y="1111.47" width="45.32" height="33.09" fill="#f8c6ac"/><rect x="783.84" y="1111.47" width="45.32" height="33.09" fill="#d6e5ee"/><rect x="828.56" y="1111.47" width="45.32" height="33.09" fill="#b4d6e9"/><rect x="873.28" y="1111.47" width="45.32" height="33.09" fill="#d0e3ee"/><rect x="918.00" y="1111.47" width="45.32" height="33.09" fill="#eae0db"/><rect x="962.72" y="1111.47" width="45.32" height="33.09" fill="#e0e3e4"/><rect x="1007.44" y="1111.47" width="45.32" height="33.09" fill="#c9e0ed"/><rect x="1052.16" y="1111.47" width="45.32" height="33.09" fill="#c9e0ed"/><rect x="1096.88" y="1111.47" width="45.32" height="33.09" fill="#9ccae2"/><rect x="1141.60" y="1111.47" width="45.32" height="33.09" fill="#1a5597"/><rect x="1186.32" y="1111.47" width="45.32" height="33.09" fill="#b9d8e9"/><rect x="1231.04" y="1111.47" width="45.32" height="33.09" fill="#f8c0a6"/><rect x="1275.76" y="1111.47" width="45.32" height="33.09" fill="#d2e4ef"/><rect x="336.64" y="1143.96" width="45.32" height="33.09" fill="#860824"/><rect x="381.36" y="1143.96" width="45.32" height="33.09" fill="#f8d5c4"/><rect x="426.08" y="1143.96" width="45.32" height="33.09" fill="#3988c0"/><rect x="470.80" y="1143.96" width="45.32" height="33.09" fill="#d7e4ec"/><rect x="515.52" y="1143.96" width="45.32" height="33.09" fill="#ea8e71"/><rect x="560.24" y="1143.96" width="45.32" height="33.09" fill="#db6956"/><rect x="604.96" y="1143.96" width="45.32" height="33.09" fill="#d0e3ee"/><rect x="649.68" y="1143.96" width="45.32" height="33.09" fill="#f8d5c4"/><rect x="694.40" y="1143.96" width="45.32" height="33.09" fill="#dee3e5"/><rect x="739.12" y="1143.96" width="45.32" height="33.09" fill="#f9cbb3"/><rect x="783.84" y="1143.96" width="45.32" height="33.09" fill="#fad0ba"/><rect x="828.56" y="1143.96" width="45.32" height="33.09" fill="#dde3e7"/><rect x="873.28" y="1143.96" width="45.32" height="33.09" fill="#e2e2e2"/><rect x="918.00" y="1143.96" width="45.32" height="33.09" fill="#f8d4c1"/><rect x="962.72" y="1143.96" width="45.32" height="33.09" fill="#f5dacd"/><rect x="1007.44" y="1143.96" width="45.32" height="33.09" fill="#a7cfe5"/><rect x="1052.16" y="1143.96" width="45.32" height="33.09" fill="#a7cfe5"/><rect x="1096.88" y="1143.96" width="45.32" height="33.09" fill="#bfdbeb"/><rect x="1141.60" y="1143.96" width="45.32" height="33.09" fill="#d2e4ef"/><rect x="1186.32" y="1143.96" width="45.32" height="33.09" fill="#3988c0"/><rect x="1231.04" y="1143.96" width="45.32" height="33.09" fill="#dde3e7"/><rect x="1275.76" y="1143.96" width="45.32" height="33.09" fill="#eddfd8"/><rect x="336.64" y="1176.45" width="45.32" height="33.09" fill="#7e0623"/><rect x="381.36" y="1176.45" width="45.32" height="33.09" fill="#f8c0a6"/><rect x="426.08" y="1176.45" width="45.32" height="33.09" fill="#c7dfec"/><rect x="470.80" y="1176.45" width="45.32" height="33.09" fill="#f8d5c4"/><rect x="515.52" y="1176.45" width="45.32" height="33.09" fill="#f0a07f"/><rect x="560.24" y="1176.45" width="45.32" height="33.09" fill="#cf5147"/><rect x="604.96" y="1176.45" width="45.32" height="33.09" fill="#f8d5c4"/><rect x="649.68" y="1176.45" width="45.32" height="33.09" fill="#e8e0dc"/><rect x="694.40" y="1176.45" width="45.32" height="33.09" fill="#b9d8e9"/><rect x="739.12" y="1176.45" width="45.32" height="33.09" fill="#dee3e5"/><rect x="783.84" y="1176.45" width="45.32" height="33.09" fill="#f8d5c4"/><rect x="828.56" y="1176.45" width="45.32" height="33.09" fill="#f9cbb3"/><rect x="873.28" y="1176.45" width="45.32" height="33.09" fill="#d4e5ef"/><rect x="918.00" y="1176.45" width="45.32" height="33.09" fill="#c1dceb"/><rect x="962.72" y="1176.45" width="45.32" height="33.09" fill="#eae0db"/><rect x="1007.44" y="1176.45" width="45.32" height="33.09" fill="#7cb6d8"/><rect x="1052.16" y="1176.45" width="45.32" height="33.09" fill="#6babd2"/><rect x="1096.88" y="1176.45" width="45.32" height="33.09" fill="#f9d3bf"/><rect x="1141.60" y="1176.45" width="45.32" height="33.09" fill="#81b9da"/><rect x="1186.32" y="1176.45" width="45.32" height="33.09" fill="#7cb6d8"/><rect x="1231.04" y="1176.45" width="45.32" height="33.09" fill="#8cc0dd"/><rect x="1275.76" y="1176.45" width="45.32" height="33.09" fill="#dce4e8"/><rect x="336.64" y="1208.94" width="45.32" height="33.09" fill="#c63f3d"/><rect x="381.36" y="1208.94" width="45.32" height="33.09" fill="#f3ab8c"/><rect x="426.08" y="1208.94" width="45.32" height="33.09" fill="#2b76b6"/><rect x="470.80" y="1208.94" width="45.32" height="33.09" fill="#dee3e5"/><rect x="515.52" y="1208.94" width="45.32" height="33.09" fill="#ed9778"/><rect x="560.24" y="1208.94" width="45.32" height="33.09" fill="#e6856a"/><rect x="604.96" y="1208.94" width="45.32" height="33.09" fill="#f8d5c4"/><rect x="649.68" y="1208.94" width="45.32" height="33.09" fill="#97c7e1"/><rect x="694.40" y="1208.94" width="45.32" height="33.09" fill="#a2cce4"/><rect x="739.12" y="1208.94" width="45.32" height="33.09" fill="#e6e1de"/><rect x="783.84" y="1208.94" width="45.32" height="33.09" fill="#eae0db"/><rect x="828.56" y="1208.94" width="45.32" height="33.09" fill="#f6b99b"/><rect x="873.28" y="1208.94" width="45.32" height="33.09" fill="#f4ddd2"/><rect x="918.00" y="1208.94" width="45.32" height="33.09" fill="#f5b293"/><rect x="962.72" y="1208.94" width="45.32" height="33.09" fill="#d4e5ef"/><rect x="1007.44" y="1208.94" width="45.32" height="33.09" fill="#f4ddd2"/><rect x="1052.16" y="1208.94" width="45.32" height="33.09" fill="#dee3e5"/><rect x="1096.88" y="1208.94" width="45.32" height="33.09" fill="#f8d5c4"/><rect x="1141.60" y="1208.94" width="45.32" height="33.09" fill="#dce4e8"/><rect x="1186.32" y="1208.94" width="45.32" height="33.09" fill="#2b76b6"/><rect x="1231.04" y="1208.94" width="45.32" height="33.09" fill="#e3e2e1"/><rect x="1275.76" y="1208.94" width="45.32" height="33.09" fill="#8cc0dd"/><rect x="336.64" y="1241.43" width="45.32" height="33.09" fill="#f6d9cb"/><rect x="381.36" y="1241.43" width="45.32" height="33.09" fill="#f8c6ac"/><rect x="426.08" y="1241.43" width="45.32" height="33.09" fill="#164f90"/><rect x="470.80" y="1241.43" width="45.32" height="33.09" fill="#d0e3ee"/><rect x="515.52" y="1241.43" width="45.32" height="33.09" fill="#f0a07f"/><rect x="560.24" y="1241.43" width="45.32" height="33.09" fill="#b6242f"/><rect x="604.96" y="1241.43" width="45.32" height="33.09" fill="#f4ddd2"/><rect x="649.68" y="1241.43" width="45.32" height="33.09" fill="#c13638"/><rect x="694.40" y="1241.43" width="45.32" height="33.09" fill="#f4ddd2"/><rect x="739.12" y="1241.43" width="45.32" height="33.09" fill="#bddaea"/><rect x="783.84" y="1241.43" width="45.32" height="33.09" fill="#bddaea"/><rect x="828.56" y="1241.43" width="45.32" height="33.09" fill="#d4e5ef"/><rect x="873.28" y="1241.43" width="45.32" height="33.09" fill="#d0e3ee"/><rect x="918.00" y="1241.43" width="45.32" height="33.09" fill="#b0d4e8"/><rect x="962.72" y="1241.43" width="45.32" height="33.09" fill="#f6d8c8"/><rect x="1007.44" y="1241.43" width="45.32" height="33.09" fill="#eae0db"/><rect x="1052.16" y="1241.43" width="45.32" height="33.09" fill="#efded6"/><rect x="1096.88" y="1241.43" width="45.32" height="33.09" fill="#a2cce4"/><rect x="1141.60" y="1241.43" width="45.32" height="33.09" fill="#f5dacd"/><rect x="1186.32" y="1241.43" width="45.32" height="33.09" fill="#92c4df"/><rect x="1231.04" y="1241.43" width="45.32" height="33.09" fill="#fad0ba"/><rect x="1275.76" y="1241.43" width="45.32" height="33.09" fill="#d4e5ef"/><rect x="336.64" y="1273.92" width="45.32" height="33.09" fill="#860824"/><rect x="381.36" y="1273.92" width="45.32" height="33.09" fill="#d0e3ee"/><rect x="426.08" y="1273.92" width="45.32" height="33.09" fill="#eae0db"/><rect x="470.80" y="1273.92" width="45.32" height="33.09" fill="#f8c6ac"/><rect x="515.52" y="1273.92" width="45.32" height="33.09" fill="#6babd2"/><rect x="560.24" y="1273.92" width="45.32" height="33.09" fill="#e6856a"/><rect x="604.96" y="1273.92" width="45.32" height="33.09" fill="#a7cfe5"/><rect x="649.68" y="1273.92" width="45.32" height="33.09" fill="#f2ded4"/><rect x="694.40" y="1273.92" width="45.32" height="33.09" fill="#c1dceb"/><rect x="739.12" y="1273.92" width="45.32" height="33.09" fill="#f2ded4"/><rect x="783.84" y="1273.92" width="45.32" height="33.09" fill="#f2ded4"/><rect x="828.56" y="1273.92" width="45.32" height="33.09" fill="#e17760"/><rect x="873.28" y="1273.92" width="45.32" height="33.09" fill="#e3e2e1"/><rect x="918.00" y="1273.92" width="45.32" height="33.09" fill="#e8e0dc"/><rect x="962.72" y="1273.92" width="45.32" height="33.09" fill="#c9e0ed"/><rect x="1007.44" y="1273.92" width="45.32" height="33.09" fill="#f5dacd"/><rect x="1052.16" y="1273.92" width="45.32" height="33.09" fill="#f7d6c6"/><rect x="1096.88" y="1273.92" width="45.32" height="33.09" fill="#f8d4c1"/><rect x="1141.60" y="1273.92" width="45.32" height="33.09" fill="#7cb6d8"/><rect x="1186.32" y="1273.92" width="45.32" height="33.09" fill="#2b76b6"/><rect x="1231.04" y="1273.92" width="45.32" height="33.09" fill="#acd2e7"/><rect x="1275.76" y="1273.92" width="45.32" height="33.09" fill="#eae0db"/><rect x="336.64" y="1306.41" width="45.32" height="33.09" fill="#e6856a"/><rect x="381.36" y="1306.41" width="45.32" height="33.09" fill="#1a5597"/><rect x="426.08" y="1306.41" width="45.32" height="33.09" fill="#2b76b6"/><rect x="470.80" y="1306.41" width="45.32" height="33.09" fill="#ed9778"/><rect x="515.52" y="1306.41" width="45.32" height="33.09" fill="#ea9073"/><rect x="560.24" y="1306.41" width="45.32" height="33.09" fill="#f0a07f"/><rect x="604.96" y="1306.41" width="45.32" height="33.09" fill="#f6b698"/><rect x="649.68" y="1306.41" width="45.32" height="33.09" fill="#d4e5ef"/><rect x="694.40" y="1306.41" width="45.32" height="33.09" fill="#f8c6ac"/><rect x="739.12" y="1306.41" width="45.32" height="33.09" fill="#e3e2e1"/><rect x="783.84" y="1306.41" width="45.32" height="33.09" fill="#a2cce4"/><rect x="828.56" y="1306.41" width="45.32" height="33.09" fill="#e3e2e1"/><rect x="873.28" y="1306.41" width="45.32" height="33.09" fill="#b4d6e9"/><rect x="918.00" y="1306.41" width="45.32" height="33.09" fill="#e6e1de"/><rect x="962.72" y="1306.41" width="45.32" height="33.09" fill="#e6e1de"/><rect x="1007.44" y="1306.41" width="45.32" height="33.09" fill="#d4e5ef"/><rect x="1052.16" y="1306.41" width="45.32" height="33.09" fill="#dee3e5"/><rect x="1096.88" y="1306.41" width="45.32" height="33.09" fill="#f9d3bf"/><rect x="1141.60" y="1306.41" width="45.32" height="33.09" fill="#acd2e7"/><rect x="1186.32" y="1306.41" width="45.32" height="33.09" fill="#bddaea"/><rect x="1231.04" y="1306.41" width="45.32" height="33.09" fill="#f9cbb3"/><rect x="1275.76" y="1306.41" width="45.32" height="33.09" fill="#f1a484"/><rect x="336.64" y="1338.90" width="45.32" height="33.09" fill="#d65f4f"/><rect x="381.36" y="1338.90" width="45.32" height="33.09" fill="#1a5597"/><rect x="426.08" y="1338.90" width="45.32" height="33.09" fill="#3383bd"/><rect x="470.80" y="1338.90" width="45.32" height="33.09" fill="#eae0db"/><rect x="515.52" y="1338.90" width="45.32" height="33.09" fill="#ca4842"/><rect x="560.24" y="1338.90" width="45.32" height="33.09" fill="#ec9476"/><rect x="604.96" y="1338.90" width="45.32" height="33.09" fill="#f5dacd"/><rect x="649.68" y="1338.90" width="45.32" height="33.09" fill="#b4d6e9"/><rect x="694.40" y="1338.90" width="45.32" height="33.09" fill="#e0e3e4"/><rect x="739.12" y="1338.90" width="45.32" height="33.09" fill="#e3e2e1"/><rect x="783.84" y="1338.90" width="45.32" height="33.09" fill="#fad0ba"/><rect x="828.56" y="1338.90" width="45.32" height="33.09" fill="#f8c0a6"/><rect x="873.28" y="1338.90" width="45.32" height="33.09" fill="#ece0da"/><rect x="918.00" y="1338.90" width="45.32" height="33.09" fill="#f4ddd2"/><rect x="962.72" y="1338.90" width="45.32" height="33.09" fill="#dde3e7"/><rect x="1007.44" y="1338.90" width="45.32" height="33.09" fill="#ece0da"/><rect x="1052.16" y="1338.90" width="45.32" height="33.09" fill="#f7bb9f"/><rect x="1096.88" y="1338.90" width="45.32" height="33.09" fill="#f9d3bf"/><rect x="1141.60" y="1338.90" width="45.32" height="33.09" fill="#a7cfe5"/><rect x="1186.32" y="1338.90" width="45.32" height="33.09" fill="#cce1ed"/><rect x="1231.04" y="1338.90" width="45.32" height="33.09" fill="#c9e0ed"/><rect x="1275.76" y="1338.90" width="45.32" height="33.09" fill="#c9e0ed"/><rect x="336.64" y="1371.39" width="45.32" height="33.09" fill="#b6242f"/><rect x="381.36" y="1371.39" width="45.32" height="33.09" fill="#3c8bc2"/><rect x="426.08" y="1371.39" width="45.32" height="33.09" fill="#114785"/><rect x="470.80" y="1371.39" width="45.32" height="33.09" fill="#f6d9cb"/><rect x="515.52" y="1371.39" width="45.32" height="33.09" fill="#f1a484"/><rect x="560.24" y="1371.39" width="45.32" height="33.09" fill="#f6b99b"/><rect x="604.96" y="1371.39" width="45.32" height="33.09" fill="#cce1ed"/><rect x="649.68" y="1371.39" width="45.32" height="33.09" fill="#cce1ed"/><rect x="694.40" y="1371.39" width="45.32" height="33.09" fill="#cce1ed"/><rect x="739.12" y="1371.39" width="45.32" height="33.09" fill="#cce1ed"/><rect x="783.84" y="1371.39" width="45.32" height="33.09" fill="#d2e4ef"/><rect x="828.56" y="1371.39" width="45.32" height="33.09" fill="#b4d6e9"/><rect x="873.28" y="1371.39" width="45.32" height="33.09" fill="#e6e1de"/><rect x="918.00" y="1371.39" width="45.32" height="33.09" fill="#f4ddd2"/><rect x="962.72" y="1371.39" width="45.32" height="33.09" fill="#a7cfe5"/><rect x="1007.44" y="1371.39" width="45.32" height="33.09" fill="#f3ab8c"/><rect x="1052.16" y="1371.39" width="45.32" height="33.09" fill="#f8c0a6"/><rect x="1096.88" y="1371.39" width="45.32" height="33.09" fill="#f4af90"/><rect x="1141.60" y="1371.39" width="45.32" height="33.09" fill="#f8d5c4"/><rect x="1186.32" y="1371.39" width="45.32" height="33.09" fill="#c1dceb"/><rect x="1231.04" y="1371.39" width="45.32" height="33.09" fill="#f9cbb3"/><rect x="1275.76" y="1371.39" width="45.32" height="33.09" fill="#f9d1bc"/><rect x="336.64" y="1403.88" width="45.32" height="33.09" fill="#eddfd8"/><rect x="381.36" y="1403.88" width="45.32" height="33.09" fill="#6babd2"/><rect x="426.08" y="1403.88" width="45.32" height="33.09" fill="#062f62"/><rect x="470.80" y="1403.88" width="45.32" height="33.09" fill="#f8d5c4"/><rect x="515.52" y="1403.88" width="45.32" height="33.09" fill="#df735c"/><rect x="560.24" y="1403.88" width="45.32" height="33.09" fill="#f1a484"/><rect x="604.96" y="1403.88" width="45.32" height="33.09" fill="#f1a484"/><rect x="649.68" y="1403.88" width="45.32" height="33.09" fill="#f6b698"/><rect x="694.40" y="1403.88" width="45.32" height="33.09" fill="#f9d3bf"/><rect x="739.12" y="1403.88" width="45.32" height="33.09" fill="#e3e2e1"/><rect x="783.84" y="1403.88" width="45.32" height="33.09" fill="#f9d3bf"/><rect x="828.56" y="1403.88" width="45.32" height="33.09" fill="#f4ddd2"/><rect x="873.28" y="1403.88" width="45.32" height="33.09" fill="#f4ddd2"/><rect x="918.00" y="1403.88" width="45.32" height="33.09" fill="#e3e2e1"/><rect x="962.72" y="1403.88" width="45.32" height="33.09" fill="#f8d4c1"/><rect x="1007.44" y="1403.88" width="45.32" height="33.09" fill="#f4ddd2"/><rect x="1052.16" y="1403.88" width="45.32" height="33.09" fill="#d2e4ef"/><rect x="1096.88" y="1403.88" width="45.32" height="33.09" fill="#d2e4ef"/><rect x="1141.60" y="1403.88" width="45.32" height="33.09" fill="#7cb6d8"/><rect x="1186.32" y="1403.88" width="45.32" height="33.09" fill="#a2cce4"/><rect x="1231.04" y="1403.88" width="45.32" height="33.09" fill="#f7bb9f"/><rect x="1275.76" y="1403.88" width="45.32" height="33.09" fill="#f9d3bf"/><rect x="336.64" y="1436.37" width="45.32" height="33.09" fill="#dee3e5"/><rect x="381.36" y="1436.37" width="45.32" height="33.09" fill="#5aa0cc"/><rect x="426.08" y="1436.37" width="45.32" height="33.09" fill="#062f62"/><rect x="470.80" y="1436.37" width="45.32" height="33.09" fill="#f9cbb3"/><rect x="515.52" y="1436.37" width="45.32" height="33.09" fill="#f1a484"/><rect x="560.24" y="1436.37" width="45.32" height="33.09" fill="#eb9275"/><rect x="604.96" y="1436.37" width="45.32" height="33.09" fill="#eb9275"/><rect x="649.68" y="1436.37" width="45.32" height="33.09" fill="#f7bea2"/><rect x="694.40" y="1436.37" width="45.32" height="33.09" fill="#d0e3ee"/><rect x="739.12" y="1436.37" width="45.32" height="33.09" fill="#f8c6ac"/><rect x="783.84" y="1436.37" width="45.32" height="33.09" fill="#f8c6ac"/><rect x="828.56" y="1436.37" width="45.32" height="33.09" fill="#d0e3ee"/><rect x="873.28" y="1436.37" width="45.32" height="33.09" fill="#f5dacd"/><rect x="918.00" y="1436.37" width="45.32" height="33.09" fill="#f8c0a6"/><rect x="962.72" y="1436.37" width="45.32" height="33.09" fill="#bddaea"/><rect x="1007.44" y="1436.37" width="45.32" height="33.09" fill="#f4ddd2"/><rect x="1052.16" y="1436.37" width="45.32" height="33.09" fill="#dde3e7"/><rect x="1096.88" y="1436.37" width="45.32" height="33.09" fill="#f7bb9f"/><rect x="1141.60" y="1436.37" width="45.32" height="33.09" fill="#92c4df"/><rect x="1186.32" y="1436.37" width="45.32" height="33.09" fill="#a2cce4"/><rect x="1231.04" y="1436.37" width="45.32" height="33.09" fill="#f6b99b"/><rect x="1275.76" y="1436.37" width="45.32" height="33.09" fill="#e8e0dc"/><rect x="336.64" y="1468.86" width="45.32" height="33.09" fill="#f8c0a6"/><rect x="381.36" y="1468.86" width="45.32" height="33.09" fill="#60a4ce"/><rect x="426.08" y="1468.86" width="45.32" height="33.09" fill="#062f62"/><rect x="470.80" y="1468.86" width="45.32" height="33.09" fill="#eae0db"/><rect x="515.52" y="1468.86" width="45.32" height="33.09" fill="#e6856a"/><rect x="560.24" y="1468.86" width="45.32" height="33.09" fill="#f1a484"/><rect x="604.96" y="1468.86" width="45.32" height="33.09" fill="#c1dceb"/><rect x="649.68" y="1468.86" width="45.32" height="33.09" fill="#f6b698"/><rect x="694.40" y="1468.86" width="45.32" height="33.09" fill="#f9d3bf"/><rect x="739.12" y="1468.86" width="45.32" height="33.09" fill="#f9cbb3"/><rect x="783.84" y="1468.86" width="45.32" height="33.09" fill="#e3e2e1"/><rect x="828.56" y="1468.86" width="45.32" height="33.09" fill="#c9e0ed"/><rect x="873.28" y="1468.86" width="45.32" height="33.09" fill="#f8c0a6"/><rect x="918.00" y="1468.86" width="45.32" height="33.09" fill="#f9d3bf"/><rect x="962.72" y="1468.86" width="45.32" height="33.09" fill="#dde3e7"/><rect x="1007.44" y="1468.86" width="45.32" height="33.09" fill="#f9d3bf"/><rect x="1052.16" y="1468.86" width="45.32" height="33.09" fill="#f7bb9f"/><rect x="1096.88" y="1468.86" width="45.32" height="33.09" fill="#e3e2e1"/><rect x="1141.60" y="1468.86" width="45.32" height="33.09" fill="#acd2e7"/><rect x="1186.32" y="1468.86" width="45.32" height="33.09" fill="#bddaea"/><rect x="1231.04" y="1468.86" width="45.32" height="33.09" fill="#f8c3a9"/><rect x="1275.76" y="1468.86" width="45.32" height="33.09" fill="#f4ddd2"/><rect x="336.64" y="1501.35" width="45.32" height="33.09" fill="#d65f4f"/><rect x="381.36" y="1501.35" width="45.32" height="33.09" fill="#d4e5ef"/><rect x="426.08" y="1501.35" width="45.32" height="33.09" fill="#062f62"/><rect x="470.80" y="1501.35" width="45.32" height="33.09" fill="#c1dceb"/><rect x="515.52" y="1501.35" width="45.32" height="33.09" fill="#f4ddd2"/><rect x="560.24" y="1501.35" width="45.32" height="33.09" fill="#c9e0ed"/><rect x="604.96" y="1501.35" width="45.32" height="33.09" fill="#d7e4ec"/><rect x="649.68" y="1501.35" width="45.32" height="33.09" fill="#f8d5c4"/><rect x="694.40" y="1501.35" width="45.32" height="33.09" fill="#e3e2e1"/><rect x="739.12" y="1501.35" width="45.32" height="33.09" fill="#e6e1de"/><rect x="783.84" y="1501.35" width="45.32" height="33.09" fill="#f6d9cb"/><rect x="828.56" y="1501.35" width="45.32" height="33.09" fill="#eae0db"/><rect x="873.28" y="1501.35" width="45.32" height="33.09" fill="#eae0db"/><rect x="918.00" y="1501.35" width="45.32" height="33.09" fill="#a2cce4"/><rect x="962.72" y="1501.35" width="45.32" height="33.09" fill="#e0e3e4"/><rect x="1007.44" y="1501.35" width="45.32" height="33.09" fill="#ee9b7c"/><rect x="1052.16" y="1501.35" width="45.32" height="33.09" fill="#f4af90"/><rect x="1096.88" y="1501.35" width="45.32" height="33.09" fill="#f8c3a9"/><rect x="1141.60" y="1501.35" width="45.32" height="33.09" fill="#92c4df"/><rect x="1186.32" y="1501.35" width="45.32" height="33.09" fill="#dde3e7"/><rect x="1231.04" y="1501.35" width="45.32" height="33.09" fill="#f1a484"/><rect x="1275.76" y="1501.35" width="45.32" height="33.09" fill="#f1a484"/><rect x="336.64" y="1533.84" width="45.32" height="33.09" fill="#e6856a"/><rect x="381.36" y="1533.84" width="45.32" height="33.09" fill="#81b9da"/><rect x="426.08" y="1533.84" width="45.32" height="33.09" fill="#062f62"/><rect x="470.80" y="1533.84" width="45.32" height="33.09" fill="#f9cbb3"/><rect x="515.52" y="1533.84" width="45.32" height="33.09" fill="#c9e0ed"/><rect x="560.24" y="1533.84" width="45.32" height="33.09" fill="#e8e0dc"/><rect x="604.96" y="1533.84" width="45.32" height="33.09" fill="#f6b99b"/><rect x="649.68" y="1533.84" width="45.32" height="33.09" fill="#c9e0ed"/><rect x="694.40" y="1533.84" width="45.32" height="33.09" fill="#7cb6d8"/><rect x="739.12" y="1533.84" width="45.32" height="33.09" fill="#e3e2e1"/><rect x="783.84" y="1533.84" width="45.32" height="33.09" fill="#f4ad8e"/><rect x="828.56" y="1533.84" width="45.32" height="33.09" fill="#f6b698"/><rect x="873.28" y="1533.84" width="45.32" height="33.09" fill="#acd2e7"/><rect x="918.00" y="1533.84" width="45.32" height="33.09" fill="#eae0db"/><rect x="962.72" y="1533.84" width="45.32" height="33.09" fill="#f9d3bf"/><rect x="1007.44" y="1533.84" width="45.32" height="33.09" fill="#eae0db"/><rect x="1052.16" y="1533.84" width="45.32" height="33.09" fill="#f9cbb3"/><rect x="1096.88" y="1533.84" width="45.32" height="33.09" fill="#f9cbb3"/><rect x="1141.60" y="1533.84" width="45.32" height="33.09" fill="#dde3e7"/><rect x="1186.32" y="1533.84" width="45.32" height="33.09" fill="#a7cfe5"/><rect x="1231.04" y="1533.84" width="45.32" height="33.09" fill="#f1a484"/><rect x="1275.76" y="1533.84" width="45.32" height="33.09" fill="#d65f4f"/><rect x="336.64" y="1566.33" width="45.32" height="33.09" fill="#ca4842"/><rect x="381.36" y="1566.33" width="45.32" height="33.09" fill="#f8d5c4"/><rect x="426.08" y="1566.33" width="45.32" height="33.09" fill="#114785"/><rect x="470.80" y="1566.33" width="45.32" height="33.09" fill="#bfdbeb"/><rect x="515.52" y="1566.33" width="45.32" height="33.09" fill="#e8896e"/><rect x="560.24" y="1566.33" width="45.32" height="33.09" fill="#f8d4c1"/><rect x="604.96" y="1566.33" width="45.32" height="33.09" fill="#e3e2e1"/><rect x="649.68" y="1566.33" width="45.32" height="33.09" fill="#eddfd8"/><rect x="694.40" y="1566.33" width="45.32" height="33.09" fill="#fad0ba"/><rect x="739.12" y="1566.33" width="45.32" height="33.09" fill="#e8896e"/><rect x="783.84" y="1566.33" width="45.32" height="33.09" fill="#d4e5ef"/><rect x="828.56" y="1566.33" width="45.32" height="33.09" fill="#6babd2"/><rect x="873.28" y="1566.33" width="45.32" height="33.09" fill="#8cc0dd"/><rect x="918.00" y="1566.33" width="45.32" height="33.09" fill="#c9e0ed"/><rect x="962.72" y="1566.33" width="45.32" height="33.09" fill="#acd2e7"/><rect x="1007.44" y="1566.33" width="45.32" height="33.09" fill="#dde3e7"/><rect x="1052.16" y="1566.33" width="45.32" height="33.09" fill="#ee9b7c"/><rect x="1096.88" y="1566.33" width="45.32" height="33.09" fill="#e3e2e1"/><rect x="1141.60" y="1566.33" width="45.32" height="33.09" fill="#dce4e8"/><rect x="1186.32" y="1566.33" width="45.32" height="33.09" fill="#d2e4ef"/><rect x="1231.04" y="1566.33" width="45.32" height="33.09" fill="#f1a484"/><rect x="1275.76" y="1566.33" width="45.32" height="33.09" fill="#f5dacd"/><rect x="336.64" y="1598.82" width="45.32" height="33.09" fill="#dce4e8"/><rect x="381.36" y="1598.82" width="45.32" height="33.09" fill="#062f62"/><rect x="426.08" y="1598.82" width="45.32" height="33.09" fill="#4f99c8"/><rect x="470.80" y="1598.82" width="45.32" height="33.09" fill="#eae0db"/><rect x="515.52" y="1598.82" width="45.32" height="33.09" fill="#efded6"/><rect x="560.24" y="1598.82" width="45.32" height="33.09" fill="#f9d3bf"/><rect x="604.96" y="1598.82" width="45.32" height="33.09" fill="#dce4e8"/><rect x="649.68" y="1598.82" width="45.32" height="33.09" fill="#f1a484"/><rect x="694.40" y="1598.82" width="45.32" height="33.09" fill="#f8d5c4"/><rect x="739.12" y="1598.82" width="45.32" height="33.09" fill="#e6e1de"/><rect x="783.84" y="1598.82" width="45.32" height="33.09" fill="#dce4e8"/><rect x="828.56" y="1598.82" width="45.32" height="33.09" fill="#f8d5c4"/><rect x="873.28" y="1598.82" width="45.32" height="33.09" fill="#f9d3bf"/><rect x="918.00" y="1598.82" width="45.32" height="33.09" fill="#f5dacd"/><rect x="962.72" y="1598.82" width="45.32" height="33.09" fill="#e6e1de"/><rect x="1007.44" y="1598.82" width="45.32" height="33.09" fill="#f9d3bf"/><rect x="1052.16" y="1598.82" width="45.32" height="33.09" fill="#f8c0a6"/><rect x="1096.88" y="1598.82" width="45.32" height="33.09" fill="#f9cbb3"/><rect x="1141.60" y="1598.82" width="45.32" height="33.09" fill="#f9d3bf"/><rect x="1186.32" y="1598.82" width="45.32" height="33.09" fill="#f9cbb3"/><rect x="1231.04" y="1598.82" width="45.32" height="33.09" fill="#f5dacd"/><rect x="1275.76" y="1598.82" width="45.32" height="33.09" fill="#f9d3bf"/><rect x="336.64" y="1631.31" width="45.32" height="33.09" fill="#e17760"/><rect x="381.36" y="1631.31" width="45.32" height="33.09" fill="#0a3970"/><rect x="426.08" y="1631.31" width="45.32" height="33.09" fill="#2468ae"/><rect x="470.80" y="1631.31" width="45.32" height="33.09" fill="#f9cbb3"/><rect x="515.52" y="1631.31" width="45.32" height="33.09" fill="#f8c0a6"/><rect x="560.24" y="1631.31" width="45.32" height="33.09" fill="#bddaea"/><rect x="604.96" y="1631.31" width="45.32" height="33.09" fill="#eddfd8"/><rect x="649.68" y="1631.31" width="45.32" height="33.09" fill="#f7d6c6"/><rect x="694.40" y="1631.31" width="45.32" height="33.09" fill="#b9d8e9"/><rect x="739.12" y="1631.31" width="45.32" height="33.09" fill="#eae0db"/><rect x="783.84" y="1631.31" width="45.32" height="33.09" fill="#f6d8c8"/><rect x="828.56" y="1631.31" width="45.32" height="33.09" fill="#ee9b7c"/><rect x="873.28" y="1631.31" width="45.32" height="33.09" fill="#f8c6ac"/><rect x="918.00" y="1631.31" width="45.32" height="33.09" fill="#f5dacd"/><rect x="962.72" y="1631.31" width="45.32" height="33.09" fill="#dde3e7"/><rect x="1007.44" y="1631.31" width="45.32" height="33.09" fill="#d2e4ef"/><rect x="1052.16" y="1631.31" width="45.32" height="33.09" fill="#c1dceb"/><rect x="1096.88" y="1631.31" width="45.32" height="33.09" fill="#f5dacd"/><rect x="1141.60" y="1631.31" width="45.32" height="33.09" fill="#e0e3e4"/><rect x="1186.32" y="1631.31" width="45.32" height="33.09" fill="#e6856a"/><rect x="1231.04" y="1631.31" width="45.32" height="33.09" fill="#e6e1de"/><rect x="1275.76" y="1631.31" width="45.32" height="33.09" fill="#f8c6ac"/><rect x="336.64" y="1663.80" width="45.32" height="33.09" fill="#e17760"/><rect x="381.36" y="1663.80" width="45.32" height="33.09" fill="#1e5da0"/><rect x="426.08" y="1663.80" width="45.32" height="33.09" fill="#5aa0cc"/><rect x="470.80" y="1663.80" width="45.32" height="33.09" fill="#bfdbeb"/><rect x="515.52" y="1663.80" width="45.32" height="33.09" fill="#f6b698"/><rect x="560.24" y="1663.80" width="45.32" height="33.09" fill="#ee9b7c"/><rect x="604.96" y="1663.80" width="45.32" height="33.09" fill="#e3e2e1"/><rect x="649.68" y="1663.80" width="45.32" height="33.09" fill="#ec9476"/><rect x="694.40" y="1663.80" width="45.32" height="33.09" fill="#e0e3e4"/><rect x="739.12" y="1663.80" width="45.32" height="33.09" fill="#a2cce4"/><rect x="783.84" y="1663.80" width="45.32" height="33.09" fill="#bfdbeb"/><rect x="828.56" y="1663.80" width="45.32" height="33.09" fill="#e3e2e1"/><rect x="873.28" y="1663.80" width="45.32" height="33.09" fill="#76b2d6"/><rect x="918.00" y="1663.80" width="45.32" height="33.09" fill="#d2e4ef"/><rect x="962.72" y="1663.80" width="45.32" height="33.09" fill="#d2e4ef"/><rect x="1007.44" y="1663.80" width="45.32" height="33.09" fill="#f8c0a6"/><rect x="1052.16" y="1663.80" width="45.32" height="33.09" fill="#f4ad8e"/><rect x="1096.88" y="1663.80" width="45.32" height="33.09" fill="#ee9b7c"/><rect x="1141.60" y="1663.80" width="45.32" height="33.09" fill="#e3e2e1"/><rect x="1186.32" y="1663.80" width="45.32" height="33.09" fill="#dd6e59"/><rect x="1231.04" y="1663.80" width="45.32" height="33.09" fill="#d2e4ef"/><rect x="1275.76" y="1663.80" width="45.32" height="33.09" fill="#e6e1de"/><rect x="336.64" y="1696.29" width="45.32" height="33.09" fill="#67001f"/><rect x="381.36" y="1696.29" width="45.32" height="33.09" fill="#d65f4f"/><rect x="426.08" y="1696.29" width="45.32" height="33.09" fill="#cce1ed"/><rect x="470.80" y="1696.29" width="45.32" height="33.09" fill="#b9d8e9"/><rect x="515.52" y="1696.29" width="45.32" height="33.09" fill="#f8d5c4"/><rect x="560.24" y="1696.29" width="45.32" height="33.09" fill="#f7bb9f"/><rect x="604.96" y="1696.29" width="45.32" height="33.09" fill="#d0e3ee"/><rect x="649.68" y="1696.29" width="45.32" height="33.09" fill="#e6e1de"/><rect x="694.40" y="1696.29" width="45.32" height="33.09" fill="#c9e0ed"/><rect x="739.12" y="1696.29" width="45.32" height="33.09" fill="#a7cfe5"/><rect x="783.84" y="1696.29" width="45.32" height="33.09" fill="#e3e2e1"/><rect x="828.56" y="1696.29" width="45.32" height="33.09" fill="#e3e2e1"/><rect x="873.28" y="1696.29" width="45.32" height="33.09" fill="#f8d5c4"/><rect x="918.00" y="1696.29" width="45.32" height="33.09" fill="#a2cce4"/><rect x="962.72" y="1696.29" width="45.32" height="33.09" fill="#f5dacd"/><rect x="1007.44" y="1696.29" width="45.32" height="33.09" fill="#d4e5ef"/><rect x="1052.16" y="1696.29" width="45.32" height="33.09" fill="#cce1ed"/><rect x="1096.88" y="1696.29" width="45.32" height="33.09" fill="#d0e3ee"/><rect x="1141.60" y="1696.29" width="45.32" height="33.09" fill="#76b2d6"/><rect x="1186.32" y="1696.29" width="45.32" height="33.09" fill="#a2cce4"/><rect x="1231.04" y="1696.29" width="45.32" height="33.09" fill="#f8d5c4"/><rect x="1275.76" y="1696.29" width="45.32" height="33.09" fill="#cce1ed"/><rect x="336.64" y="1728.78" width="45.32" height="33.09" fill="#67001f"/><rect x="381.36" y="1728.78" width="45.32" height="33.09" fill="#f5b496"/><rect x="426.08" y="1728.78" width="45.32" height="33.09" fill="#d7e4ec"/><rect x="470.80" y="1728.78" width="45.32" height="33.09" fill="#f1a484"/><rect x="515.52" y="1728.78" width="45.32" height="33.09" fill="#f4ddd2"/><rect x="560.24" y="1728.78" width="45.32" height="33.09" fill="#e3e2e1"/><rect x="604.96" y="1728.78" width="45.32" height="33.09" fill="#9ccae2"/><rect x="649.68" y="1728.78" width="45.32" height="33.09" fill="#76b2d6"/><rect x="694.40" y="1728.78" width="45.32" height="33.09" fill="#e3e2e1"/><rect x="739.12" y="1728.78" width="45.32" height="33.09" fill="#cce1ed"/><rect x="783.84" y="1728.78" width="45.32" height="33.09" fill="#a7cfe5"/><rect x="828.56" y="1728.78" width="45.32" height="33.09" fill="#f9cbb3"/><rect x="873.28" y="1728.78" width="45.32" height="33.09" fill="#e3e2e1"/><rect x="918.00" y="1728.78" width="45.32" height="33.09" fill="#e3e2e1"/><rect x="962.72" y="1728.78" width="45.32" height="33.09" fill="#ed9778"/><rect x="1007.44" y="1728.78" width="45.32" height="33.09" fill="#d6e5ee"/><rect x="1052.16" y="1728.78" width="45.32" height="33.09" fill="#d6e5ee"/><rect x="1096.88" y="1728.78" width="45.32" height="33.09" fill="#73b0d5"/><rect x="1141.60" y="1728.78" width="45.32" height="33.09" fill="#a2cce4"/><rect x="1186.32" y="1728.78" width="45.32" height="33.09" fill="#97c7e1"/><rect x="1231.04" y="1728.78" width="45.32" height="33.09" fill="#ec9476"/><rect x="1275.76" y="1728.78" width="45.32" height="33.09" fill="#cce1ed"/><rect x="336.64" y="1761.27" width="45.32" height="33.09" fill="#6f0220"/><rect x="381.36" y="1761.27" width="45.32" height="33.09" fill="#f7bb9f"/><rect x="426.08" y="1761.27" width="45.32" height="33.09" fill="#b9d8e9"/><rect x="470.80" y="1761.27" width="45.32" height="33.09" fill="#bfdbeb"/><rect x="515.52" y="1761.27" width="45.32" height="33.09" fill="#db6956"/><rect x="560.24" y="1761.27" width="45.32" height="33.09" fill="#e3e2e1"/><rect x="604.96" y="1761.27" width="45.32" height="33.09" fill="#9ccae2"/><rect x="649.68" y="1761.27" width="45.32" height="33.09" fill="#c9e0ed"/><rect x="694.40" y="1761.27" width="45.32" height="33.09" fill="#f1a484"/><rect x="739.12" y="1761.27" width="45.32" height="33.09" fill="#92c4df"/><rect x="783.84" y="1761.27" width="45.32" height="33.09" fill="#92c4df"/><rect x="828.56" y="1761.27" width="45.32" height="33.09" fill="#bfdbeb"/><rect x="873.28" y="1761.27" width="45.32" height="33.09" fill="#bfdbeb"/><rect x="918.00" y="1761.27" width="45.32" height="33.09" fill="#f5b293"/><rect x="962.72" y="1761.27" width="45.32" height="33.09" fill="#f5b293"/><rect x="1007.44" y="1761.27" width="45.32" height="33.09" fill="#ece0da"/><rect x="1052.16" y="1761.27" width="45.32" height="33.09" fill="#f8d5c4"/><rect x="1096.88" y="1761.27" width="45.32" height="33.09" fill="#d7e4ec"/><rect x="1141.60" y="1761.27" width="45.32" height="33.09" fill="#97c7e1"/><rect x="1186.32" y="1761.27" width="45.32" height="33.09" fill="#70aed4"/><rect x="1231.04" y="1761.27" width="45.32" height="33.09" fill="#eddfd8"/><rect x="1275.76" y="1761.27" width="45.32" height="33.09" fill="#eae0db"/><rect x="336.64" y="1793.76" width="45.32" height="33.09" fill="#7e0623"/><rect x="381.36" y="1793.76" width="45.32" height="33.09" fill="#c8433f"/><rect x="426.08" y="1793.76" width="45.32" height="33.09" fill="#b0d4e8"/><rect x="470.80" y="1793.76" width="45.32" height="33.09" fill="#d4e5ef"/><rect x="515.52" y="1793.76" width="45.32" height="33.09" fill="#f1a484"/><rect x="560.24" y="1793.76" width="45.32" height="33.09" fill="#f8c6ac"/><rect x="604.96" y="1793.76" width="45.32" height="33.09" fill="#f4ddd2"/><rect x="649.68" y="1793.76" width="45.32" height="33.09" fill="#92c4df"/><rect x="694.40" y="1793.76" width="45.32" height="33.09" fill="#2b76b6"/><rect x="739.12" y="1793.76" width="45.32" height="33.09" fill="#b9d8e9"/><rect x="783.84" y="1793.76" width="45.32" height="33.09" fill="#e6e1de"/><rect x="828.56" y="1793.76" width="45.32" height="33.09" fill="#c1dceb"/><rect x="873.28" y="1793.76" width="45.32" height="33.09" fill="#b0d4e8"/><rect x="918.00" y="1793.76" width="45.32" height="33.09" fill="#e3e2e1"/><rect x="962.72" y="1793.76" width="45.32" height="33.09" fill="#c9e0ed"/><rect x="1007.44" y="1793.76" width="45.32" height="33.09" fill="#f9cbb3"/><rect x="1052.16" y="1793.76" width="45.32" height="33.09" fill="#f9d3bf"/><rect x="1096.88" y="1793.76" width="45.32" height="33.09" fill="#f5dacd"/><rect x="1141.60" y="1793.76" width="45.32" height="33.09" fill="#e3e2e1"/><rect x="1186.32" y="1793.76" width="45.32" height="33.09" fill="#9ccae2"/><rect x="1231.04" y="1793.76" width="45.32" height="33.09" fill="#eae0db"/><rect x="1275.76" y="1793.76" width="45.32" height="33.09" fill="#dde3e7"/><rect x="336.64" y="1826.25" width="45.32" height="33.09" fill="#860824"/><rect x="381.36" y="1826.25" width="45.32" height="33.09" fill="#8e0a25"/><rect x="426.08" y="1826.25" width="45.32" height="33.09" fill="#f9d1bc"/><rect x="470.80" y="1826.25" width="45.32" height="33.09" fill="#e6e1de"/><rect x="515.52" y="1826.25" width="45.32" height="33.09" fill="#f7bb9f"/><rect x="560.24" y="1826.25" width="45.32" height="33.09" fill="#f5dacd"/><rect x="604.96" y="1826.25" width="45.32" height="33.09" fill="#d0e3ee"/><rect x="649.68" y="1826.25" width="45.32" height="33.09" fill="#f5dacd"/><rect x="694.40" y="1826.25" width="45.32" height="33.09" fill="#4a95c7"/><rect x="739.12" y="1826.25" width="45.32" height="33.09" fill="#dde3e7"/><rect x="783.84" y="1826.25" width="45.32" height="33.09" fill="#d4e5ef"/><rect x="828.56" y="1826.25" width="45.32" height="33.09" fill="#efded6"/><rect x="873.28" y="1826.25" width="45.32" height="33.09" fill="#70aed4"/><rect x="918.00" y="1826.25" width="45.32" height="33.09" fill="#d0e3ee"/><rect x="962.72" y="1826.25" width="45.32" height="33.09" fill="#b9d8e9"/><rect x="1007.44" y="1826.25" width="45.32" height="33.09" fill="#c1dceb"/><rect x="1052.16" y="1826.25" width="45.32" height="33.09" fill="#d8e4eb"/><rect x="1096.88" y="1826.25" width="45.32" height="33.09" fill="#dae4e9"/><rect x="1141.60" y="1826.25" width="45.32" height="33.09" fill="#c9e0ed"/><rect x="1186.32" y="1826.25" width="45.32" height="33.09" fill="#70aed4"/><rect x="1231.04" y="1826.25" width="45.32" height="33.09" fill="#f9d1bc"/><rect x="1275.76" y="1826.25" width="45.32" height="33.09" fill="#e3e2e1"/><rect x="336.64" y="1858.74" width="45.32" height="33.09" fill="#ab1629"/><rect x="381.36" y="1858.74" width="45.32" height="33.09" fill="#ab1629"/><rect x="426.08" y="1858.74" width="45.32" height="33.09" fill="#eddfd8"/><rect x="470.80" y="1858.74" width="45.32" height="33.09" fill="#c1dceb"/><rect x="515.52" y="1858.74" width="45.32" height="33.09" fill="#f8c0a6"/><rect x="560.24" y="1858.74" width="45.32" height="33.09" fill="#bddaea"/><rect x="604.96" y="1858.74" width="45.32" height="33.09" fill="#d0e3ee"/><rect x="649.68" y="1858.74" width="45.32" height="33.09" fill="#9ccae2"/><rect x="694.40" y="1858.74" width="45.32" height="33.09" fill="#b0d4e8"/><rect x="739.12" y="1858.74" width="45.32" height="33.09" fill="#f9d3bf"/><rect x="783.84" y="1858.74" width="45.32" height="33.09" fill="#ec9476"/><rect x="828.56" y="1858.74" width="45.32" height="33.09" fill="#b0d4e8"/><rect x="873.28" y="1858.74" width="45.32" height="33.09" fill="#b4d6e9"/><rect x="918.00" y="1858.74" width="45.32" height="33.09" fill="#b0d4e8"/><rect x="962.72" y="1858.74" width="45.32" height="33.09" fill="#9ccae2"/><rect x="1007.44" y="1858.74" width="45.32" height="33.09" fill="#f9d3bf"/><rect x="1052.16" y="1858.74" width="45.32" height="33.09" fill="#f6b698"/><rect x="1096.88" y="1858.74" width="45.32" height="33.09" fill="#acd2e7"/><rect x="1141.60" y="1858.74" width="45.32" height="33.09" fill="#81b9da"/><rect x="1186.32" y="1858.74" width="45.32" height="33.09" fill="#8cc0dd"/><rect x="1231.04" y="1858.74" width="45.32" height="33.09" fill="#f8c0a6"/><rect x="1275.76" y="1858.74" width="45.32" height="33.09" fill="#e6e1de"/><rect x="336.64" y="1891.23" width="45.32" height="33.09" fill="#bd2e33"/><rect x="381.36" y="1891.23" width="45.32" height="33.09" fill="#67001f"/><rect x="426.08" y="1891.23" width="45.32" height="33.09" fill="#eddfd8"/><rect x="470.80" y="1891.23" width="45.32" height="33.09" fill="#c9e0ed"/><rect x="515.52" y="1891.23" width="45.32" height="33.09" fill="#f9cbb3"/><rect x="560.24" y="1891.23" width="45.32" height="33.09" fill="#eae0db"/><rect x="604.96" y="1891.23" width="45.32" height="33.09" fill="#eae0db"/><rect x="649.68" y="1891.23" width="45.32" height="33.09" fill="#b9d8e9"/><rect x="694.40" y="1891.23" width="45.32" height="33.09" fill="#c9e0ed"/><rect x="739.12" y="1891.23" width="45.32" height="33.09" fill="#dce4e8"/><rect x="783.84" y="1891.23" width="45.32" height="33.09" fill="#e0e3e4"/><rect x="828.56" y="1891.23" width="45.32" height="33.09" fill="#c1dceb"/><rect x="873.28" y="1891.23" width="45.32" height="33.09" fill="#81b9da"/><rect x="918.00" y="1891.23" width="45.32" height="33.09" fill="#e3e2e1"/><rect x="962.72" y="1891.23" width="45.32" height="33.09" fill="#b0d4e8"/><rect x="1007.44" y="1891.23" width="45.32" height="33.09" fill="#d0e3ee"/><rect x="1052.16" y="1891.23" width="45.32" height="33.09" fill="#bddaea"/><rect x="1096.88" y="1891.23" width="45.32" height="33.09" fill="#eddfd8"/><rect x="1141.60" y="1891.23" width="45.32" height="33.09" fill="#d0e3ee"/><rect x="1186.32" y="1891.23" width="45.32" height="33.09" fill="#c1dceb"/><rect x="1231.04" y="1891.23" width="45.32" height="33.09" fill="#cce1ed"/><rect x="1275.76" y="1891.23" width="45.32" height="33.09" fill="#e6e1de"/><rect x="336.64" y="1923.72" width="45.32" height="33.09" fill="#bd2e33"/><rect x="381.36" y="1923.72" width="45.32" height="33.09" fill="#67001f"/><rect x="426.08" y="1923.72" width="45.32" height="33.09" fill="#ee9b7c"/><rect x="470.80" y="1923.72" width="45.32" height="33.09" fill="#a7cfe5"/><rect x="515.52" y="1923.72" width="45.32" height="33.09" fill="#f9d3bf"/><rect x="560.24" y="1923.72" width="45.32" height="33.09" fill="#e6e1de"/><rect x="604.96" y="1923.72" width="45.32" height="33.09" fill="#e0e3e4"/><rect x="649.68" y="1923.72" width="45.32" height="33.09" fill="#b9d8e9"/><rect x="694.40" y="1923.72" width="45.32" height="33.09" fill="#f8d5c4"/><rect x="739.12" y="1923.72" width="45.32" height="33.09" fill="#b9d8e9"/><rect x="783.84" y="1923.72" width="45.32" height="33.09" fill="#b9d8e9"/><rect x="828.56" y="1923.72" width="45.32" height="33.09" fill="#b9d8e9"/><rect x="873.28" y="1923.72" width="45.32" height="33.09" fill="#e3e2e1"/><rect x="918.00" y="1923.72" width="45.32" height="33.09" fill="#e6e1de"/><rect x="962.72" y="1923.72" width="45.32" height="33.09" fill="#d2e4ef"/><rect x="1007.44" y="1923.72" width="45.32" height="33.09" fill="#c9e0ed"/><rect x="1052.16" y="1923.72" width="45.32" height="33.09" fill="#e3e2e1"/><rect x="1096.88" y="1923.72" width="45.32" height="33.09" fill="#dde3e7"/><rect x="1141.60" y="1923.72" width="45.32" height="33.09" fill="#b0d4e8"/><rect x="1186.32" y="1923.72" width="45.32" height="33.09" fill="#b0d4e8"/><rect x="1231.04" y="1923.72" width="45.32" height="33.09" fill="#b0d4e8"/><rect x="1275.76" y="1923.72" width="45.32" height="33.09" fill="#b0d4e8"/></g>
<rect x="338.5" y="364.3" width="981.70" height="1592.20" fill="none" stroke="#000" stroke-width="5.0"/>
<line x1="338.5" y1="1306.41" x2="1320.2" y2="1306.41" stroke="#000" stroke-width="6.2"/>
<line x1="338.5" y1="1696.29" x2="1320.2" y2="1696.29" stroke="#000" stroke-width="6.2"/>
<path d="M392.54,222.30 L392.54,48.90 L767.77,48.90 L767.77,87.60 M359.00,350.50 L359.00,222.30 L426.08,222.30 L426.08,250.40 M403.72,350.50 L403.72,250.40 L448.44,250.40 L448.44,350.50 M543.47,131.30 L543.47,87.60 L992.07,87.60 L992.07,96.20 M493.16,350.50 L493.16,131.30 L593.78,131.30 L593.78,152.70 M537.88,350.50 L537.88,152.70 L649.68,152.70 L649.68,166.40 M604.96,213.80 L604.96,166.40 L694.40,166.40 L694.40,184.80 M582.60,350.50 L582.60,213.80 L627.32,213.80 L627.32,350.50 M672.04,350.50 L672.04,184.80 L716.76,184.80 L716.76,350.50 M850.92,129.70 L850.92,96.20 L1133.21,96.20 L1133.21,116.30 M783.84,233.80 L783.84,129.70 L918.00,129.70 L918.00,143.20 M761.48,350.50 L761.48,233.80 L806.20,233.80 L806.20,350.50 M873.28,201.90 L873.28,143.20 L962.72,143.20 L962.72,160.00 M850.92,350.50 L850.92,201.90 L895.64,201.90 L895.64,350.50 M940.36,350.50 L940.36,160.00 L985.08,160.00 L985.08,350.50 M1052.16,291.20 L1052.16,116.30 L1214.27,116.30 L1214.27,135.80 M1029.80,350.50 L1029.80,291.20 L1074.52,291.20 L1074.52,350.50 M1152.78,190.50 L1152.78,135.80 L1275.76,135.80 L1275.76,183.80 M1119.24,350.50 L1119.24,190.50 L1186.32,190.50 L1186.32,204.60 M1163.96,350.50 L1163.96,204.60 L1208.68,204.60 L1208.68,350.50 M1253.40,350.50 L1253.40,183.80 L1298.12,183.80 L1298.12,350.50" fill="none" stroke="#000" stroke-width="4.8" stroke-linecap="round" stroke-linejoin="round"/>
<path d="M74.70,1398.73 L22.80,1398.73 L22.80,1820.16 L166.00,1820.16 M94.60,1205.74 L74.70,1205.74 L74.70,1591.71 L130.40,1591.71 M138.10,1121.32 L94.60,1121.32 L94.60,1290.16 L325.30,1290.16 M154.70,984.97 L138.10,984.97 L138.10,1257.67 L325.30,1257.67 M167.70,817.85 L154.70,817.85 L154.70,1152.08 L176.50,1152.08 M180.20,637.83 L167.70,637.83 L167.70,997.88 L181.60,997.88 M197.00,562.19 L180.20,562.19 L180.20,713.47 L210.30,713.47 M203.10,500.25 L197.00,500.25 L197.00,624.12 L234.60,624.12 M214.00,449.49 L203.10,449.49 L203.10,551.02 L237.50,551.02 M237.50,421.06 L214.00,421.06 L214.00,477.91 L325.30,477.91 M248.90,396.69 L237.50,396.69 L237.50,445.43 L325.30,445.43 M325.30,380.44 L248.90,380.44 L248.90,412.94 L325.30,412.94 M259.60,526.65 L237.50,526.65 L237.50,575.38 L325.30,575.38 M325.30,510.40 L259.60,510.40 L259.60,542.89 L325.30,542.89 M325.30,607.88 L234.60,607.88 L234.60,640.37 L325.30,640.37 M255.70,689.10 L210.30,689.10 L210.30,737.84 L325.30,737.84 M325.30,672.86 L255.70,672.86 L255.70,705.35 L325.30,705.35 M205.90,965.52 L181.60,965.52 L181.60,1030.25 L325.30,1030.25 M224.80,933.28 L205.90,933.28 L205.90,997.76 L325.30,997.76 M250.20,901.30 L224.80,901.30 L224.80,965.27 L325.30,965.27 M252.40,869.83 L250.20,869.83 L250.20,932.78 L325.30,932.78 M266.70,839.37 L252.40,839.37 L252.40,900.29 L325.30,900.29 M276.80,810.94 L266.70,810.94 L266.70,867.80 L325.30,867.80 M289.80,786.57 L276.80,786.57 L276.80,835.31 L325.30,835.31 M325.30,770.33 L289.80,770.33 L289.80,802.82 L325.30,802.82 M191.30,1103.35 L176.50,1103.35 L176.50,1200.82 L217.90,1200.82 M255.80,1078.98 L191.30,1078.98 L191.30,1127.72 L325.30,1127.72 M325.30,1062.74 L255.80,1062.74 L255.80,1095.23 L325.30,1095.23 M245.50,1176.45 L217.90,1176.45 L217.90,1225.18 L325.30,1225.18 M325.30,1160.20 L245.50,1160.20 L245.50,1192.69 L325.30,1192.69 M147.40,1527.75 L130.40,1527.75 L130.40,1655.68 L184.70,1655.68 M161.50,1472.92 L147.40,1472.92 L147.40,1582.58 L325.30,1582.58 M200.90,1412.00 L161.50,1412.00 L161.50,1533.84 L215.30,1533.84 M230.00,1363.27 L200.90,1363.27 L200.90,1460.74 L259.50,1460.74 M238.30,1338.90 L230.00,1338.90 L230.00,1387.63 L325.30,1387.63 M325.30,1322.65 L238.30,1322.65 L238.30,1355.14 L325.30,1355.14 M280.60,1436.37 L259.50,1436.37 L259.50,1485.11 L325.30,1485.11 M325.30,1420.12 L280.60,1420.12 L280.60,1452.62 L325.30,1452.62 M325.30,1517.60 L215.30,1517.60 L215.30,1550.09 L325.30,1550.09 M216.50,1631.31 L184.70,1631.31 L184.70,1680.05 L325.30,1680.05 M325.30,1615.07 L216.50,1615.07 L216.50,1647.56 L325.30,1647.56 M207.20,1753.15 L166.00,1753.15 L166.00,1887.17 L223.80,1887.17 M221.10,1728.78 L207.20,1728.78 L207.20,1777.52 L325.30,1777.52 M325.30,1712.54 L221.10,1712.54 L221.10,1745.03 L325.30,1745.03 M229.40,1850.62 L223.80,1850.62 L223.80,1923.72 L279.80,1923.72 M254.90,1826.25 L229.40,1826.25 L229.40,1874.99 L325.30,1874.99 M325.30,1810.01 L254.90,1810.01 L254.90,1842.50 L325.30,1842.50 M325.30,1907.48 L279.80,1907.48 L279.80,1939.97 L325.30,1939.97" fill="none" stroke="#000" stroke-width="4.8" stroke-linecap="round" stroke-linejoin="round"/>
<g font-family="Liberation Sans, Arial, sans-serif" font-style="italic" font-size="33" fill="#000"><text x="1355" y="392.05">NKX2−6</text><text x="1355" y="424.54">MEIS1</text><text x="1355" y="457.03">ADAMTS9</text><text x="1355" y="489.51">ZNRF3−KREMEN1</text><text x="1355" y="522.00">EYA2</text><text x="1355" y="554.50">ABCA1</text><text x="1355" y="586.99">MSC</text><text x="1355" y="619.48">JUND</text><text x="1355" y="651.97">MAP3K1</text><text x="1355" y="684.46">DNM3−PIGC</text><text x="1355" y="716.95">PEMT</text><text x="1355" y="749.44">CEBPA</text><text x="1355" y="781.93">TNFAIP8−HSD17B4</text><text x="1355" y="814.42">GRB14−COBLL1</text><text x="1355" y="846.91">MACROD1−VEGFB</text><text x="1355" y="879.40">CCDC92</text><text x="1355" y="911.89">FAM13A</text><text x="1355" y="944.38">VEGFA</text><text x="1355" y="976.87">BCL2</text><text x="1355" y="1009.36">NMU</text><text x="1355" y="1041.85">ITPR2−SSPN</text><text x="1355" y="1074.34">SNX10</text><text x="1355" y="1106.83">CMIP</text><text x="1355" y="1139.32">PBRM1</text><text x="1355" y="1171.80">RSPO3</text><text x="1355" y="1204.29">CPEB4</text><text x="1355" y="1236.78">KLF13</text><text x="1355" y="1269.27">PPARG</text><text x="1355" y="1301.76">LEKR1</text><text x="1355" y="1334.25">SMAD6</text><text x="1355" y="1366.74">SPATA5−FGF2</text><text x="1355" y="1399.23">HOXC13</text><text x="1355" y="1431.72">LYPLAL1</text><text x="1355" y="1464.21">PLXND1</text><text x="1355" y="1496.70">KCNJ2</text><text x="1355" y="1529.19">LY86</text><text x="1355" y="1561.68">CALCRL</text><text x="1355" y="1594.17">GORAB</text><text x="1355" y="1626.66">GDF5</text><text x="1355" y="1659.15">DCST2</text><text x="1355" y="1691.64">BTNL2</text><text x="1355" y="1724.13">TBX15−WARS2</text><text x="1355" y="1756.62">HOXA11</text><text x="1355" y="1789.12">RFX7</text><text x="1355" y="1821.61">NFE2L3</text><text x="1355" y="1854.10">FGFR4</text><text x="1355" y="1886.59">SFXN2</text><text x="1355" y="1919.08">BMP2</text><text x="1355" y="1951.57">HMGA1</text></g>
<g font-family="Liberation Sans, Arial, sans-serif" font-size="33" fill="#000"><text transform="translate(371.50,1984) rotate(-90)" text-anchor="end">WCadjBMI</text><text transform="translate(416.22,1984) rotate(-90)" text-anchor="end">Height</text><text transform="translate(460.94,1984) rotate(-90)" text-anchor="end">HIPadjBMI</text><text transform="translate(505.66,1984) rotate(-90)" text-anchor="end">Two-hour glucose</text><text transform="translate(550.38,1984) rotate(-90)" text-anchor="end">FladjBMI</text><text transform="translate(595.10,1984) rotate(-90)" text-anchor="end">Triglycerides</text><text transform="translate(639.82,1984) rotate(-90)" text-anchor="end">Type 2 diabetes</text><text transform="translate(684.54,1984) rotate(-90)" text-anchor="end">LDL cholesterol</text><text transform="translate(729.26,1984) rotate(-90)" text-anchor="end">Endometriosis</text><text transform="translate(773.98,1984) rotate(-90)" text-anchor="end">Femoral neck BMD</text><text transform="translate(818.70,1984) rotate(-90)" text-anchor="end">Lumbar spine BMD</text><text transform="translate(863.42,1984) rotate(-90)" text-anchor="end">Menarche</text><text transform="translate(908.14,1984) rotate(-90)" text-anchor="end">UACR</text><text transform="translate(952.86,1984) rotate(-90)" text-anchor="end">Nephropathy</text><text transform="translate(997.58,1984) rotate(-90)" text-anchor="end">Chronic kidney dis.</text><text transform="translate(1042.30,1984) rotate(-90)" text-anchor="end">Systolic blood press.</text><text transform="translate(1087.02,1984) rotate(-90)" text-anchor="end">Diastolic blood press.</text><text transform="translate(1131.74,1984) rotate(-90)" text-anchor="end">eGFRcrea</text><text transform="translate(1176.46,1984) rotate(-90)" text-anchor="end">Adiponectin</text><text transform="translate(1221.18,1984) rotate(-90)" text-anchor="end">HDL cholesterol</text><text transform="translate(1265.90,1984) rotate(-90)" text-anchor="end">Fasting glucose</text><text transform="translate(1310.62,1984) rotate(-90)" text-anchor="end">Menopause</text></g>
<defs><linearGradient id="kg" x1="0" y1="0" x2="1" y2="0"><stop offset="0.0004" stop-color="#0A2F5E"/><stop offset="0.0329" stop-color="#14477F"/><stop offset="0.0735" stop-color="#1F5DA0"/><stop offset="0.1100" stop-color="#2368AD"/><stop offset="0.1587" stop-color="#2C74B5"/><stop offset="0.2114" stop-color="#3A89C0"/><stop offset="0.2723" stop-color="#62A7D0"/><stop offset="0.3373" stop-color="#8EC4DE"/><stop offset="0.3941" stop-color="#B4D5E8"/><stop offset="0.4428" stop-color="#D1E5F0"/><stop offset="0.4834" stop-color="#E0E0E2"/><stop offset="0.5158" stop-color="#EBDFD8"/><stop offset="0.5483" stop-color="#FDDBC7"/><stop offset="0.6051" stop-color="#F8C1A5"/><stop offset="0.6660" stop-color="#F4A582"/><stop offset="0.7188" stop-color="#E6836A"/><stop offset="0.7715" stop-color="#D6604D"/><stop offset="0.8283" stop-color="#C43C3C"/><stop offset="0.8892" stop-color="#B2182B"/><stop offset="0.9460" stop-color="#8A0B26"/><stop offset="1.0000" stop-color="#67001F"/></linearGradient></defs>
<rect x="36.9" y="65" width="246.40" height="132.2" fill="url(#kg)" stroke="#000" stroke-width="5.0"/>
<path d="M36.90,197.2 L36.90,218.5 M77.97,197.2 L77.97,218.5 M119.03,197.2 L119.03,218.5 M160.10,197.2 L160.10,218.5 M201.17,197.2 L201.17,218.5 M242.23,197.2 L242.23,218.5 M283.30,197.2 L283.30,218.5" stroke="#000" stroke-width="4.8" stroke-linecap="round"/>
<g font-family="Liberation Sans, Arial, sans-serif" font-size="33" fill="#000"><text x="23.2" y="273" text-anchor="middle">−3</text><text x="65.6" y="273" text-anchor="middle">−2</text><text x="111.1" y="273" text-anchor="middle">−1</text><text x="159.6" y="273" text-anchor="middle">0</text><text x="200.5" y="273" text-anchor="middle">1</text><text x="242.9" y="273" text-anchor="middle">2</text><text x="283.7" y="273" text-anchor="middle">3</text></g>
<text x="64.5" y="327" font-family="Liberation Sans, Arial, sans-serif" font-size="32" fill="#000" textLength="193.7" lengthAdjust="spacingAndGlyphs">Scaled <tspan font-style="italic">Z</tspan> Score</text>
<text x="72" y="35.4" font-family="Liberation Sans, Arial, sans-serif" font-size="39" font-weight="bold" fill="#000" textLength="183.2" lengthAdjust="spacingAndGlyphs">Color Key</text>
</svg>
</body></html>
